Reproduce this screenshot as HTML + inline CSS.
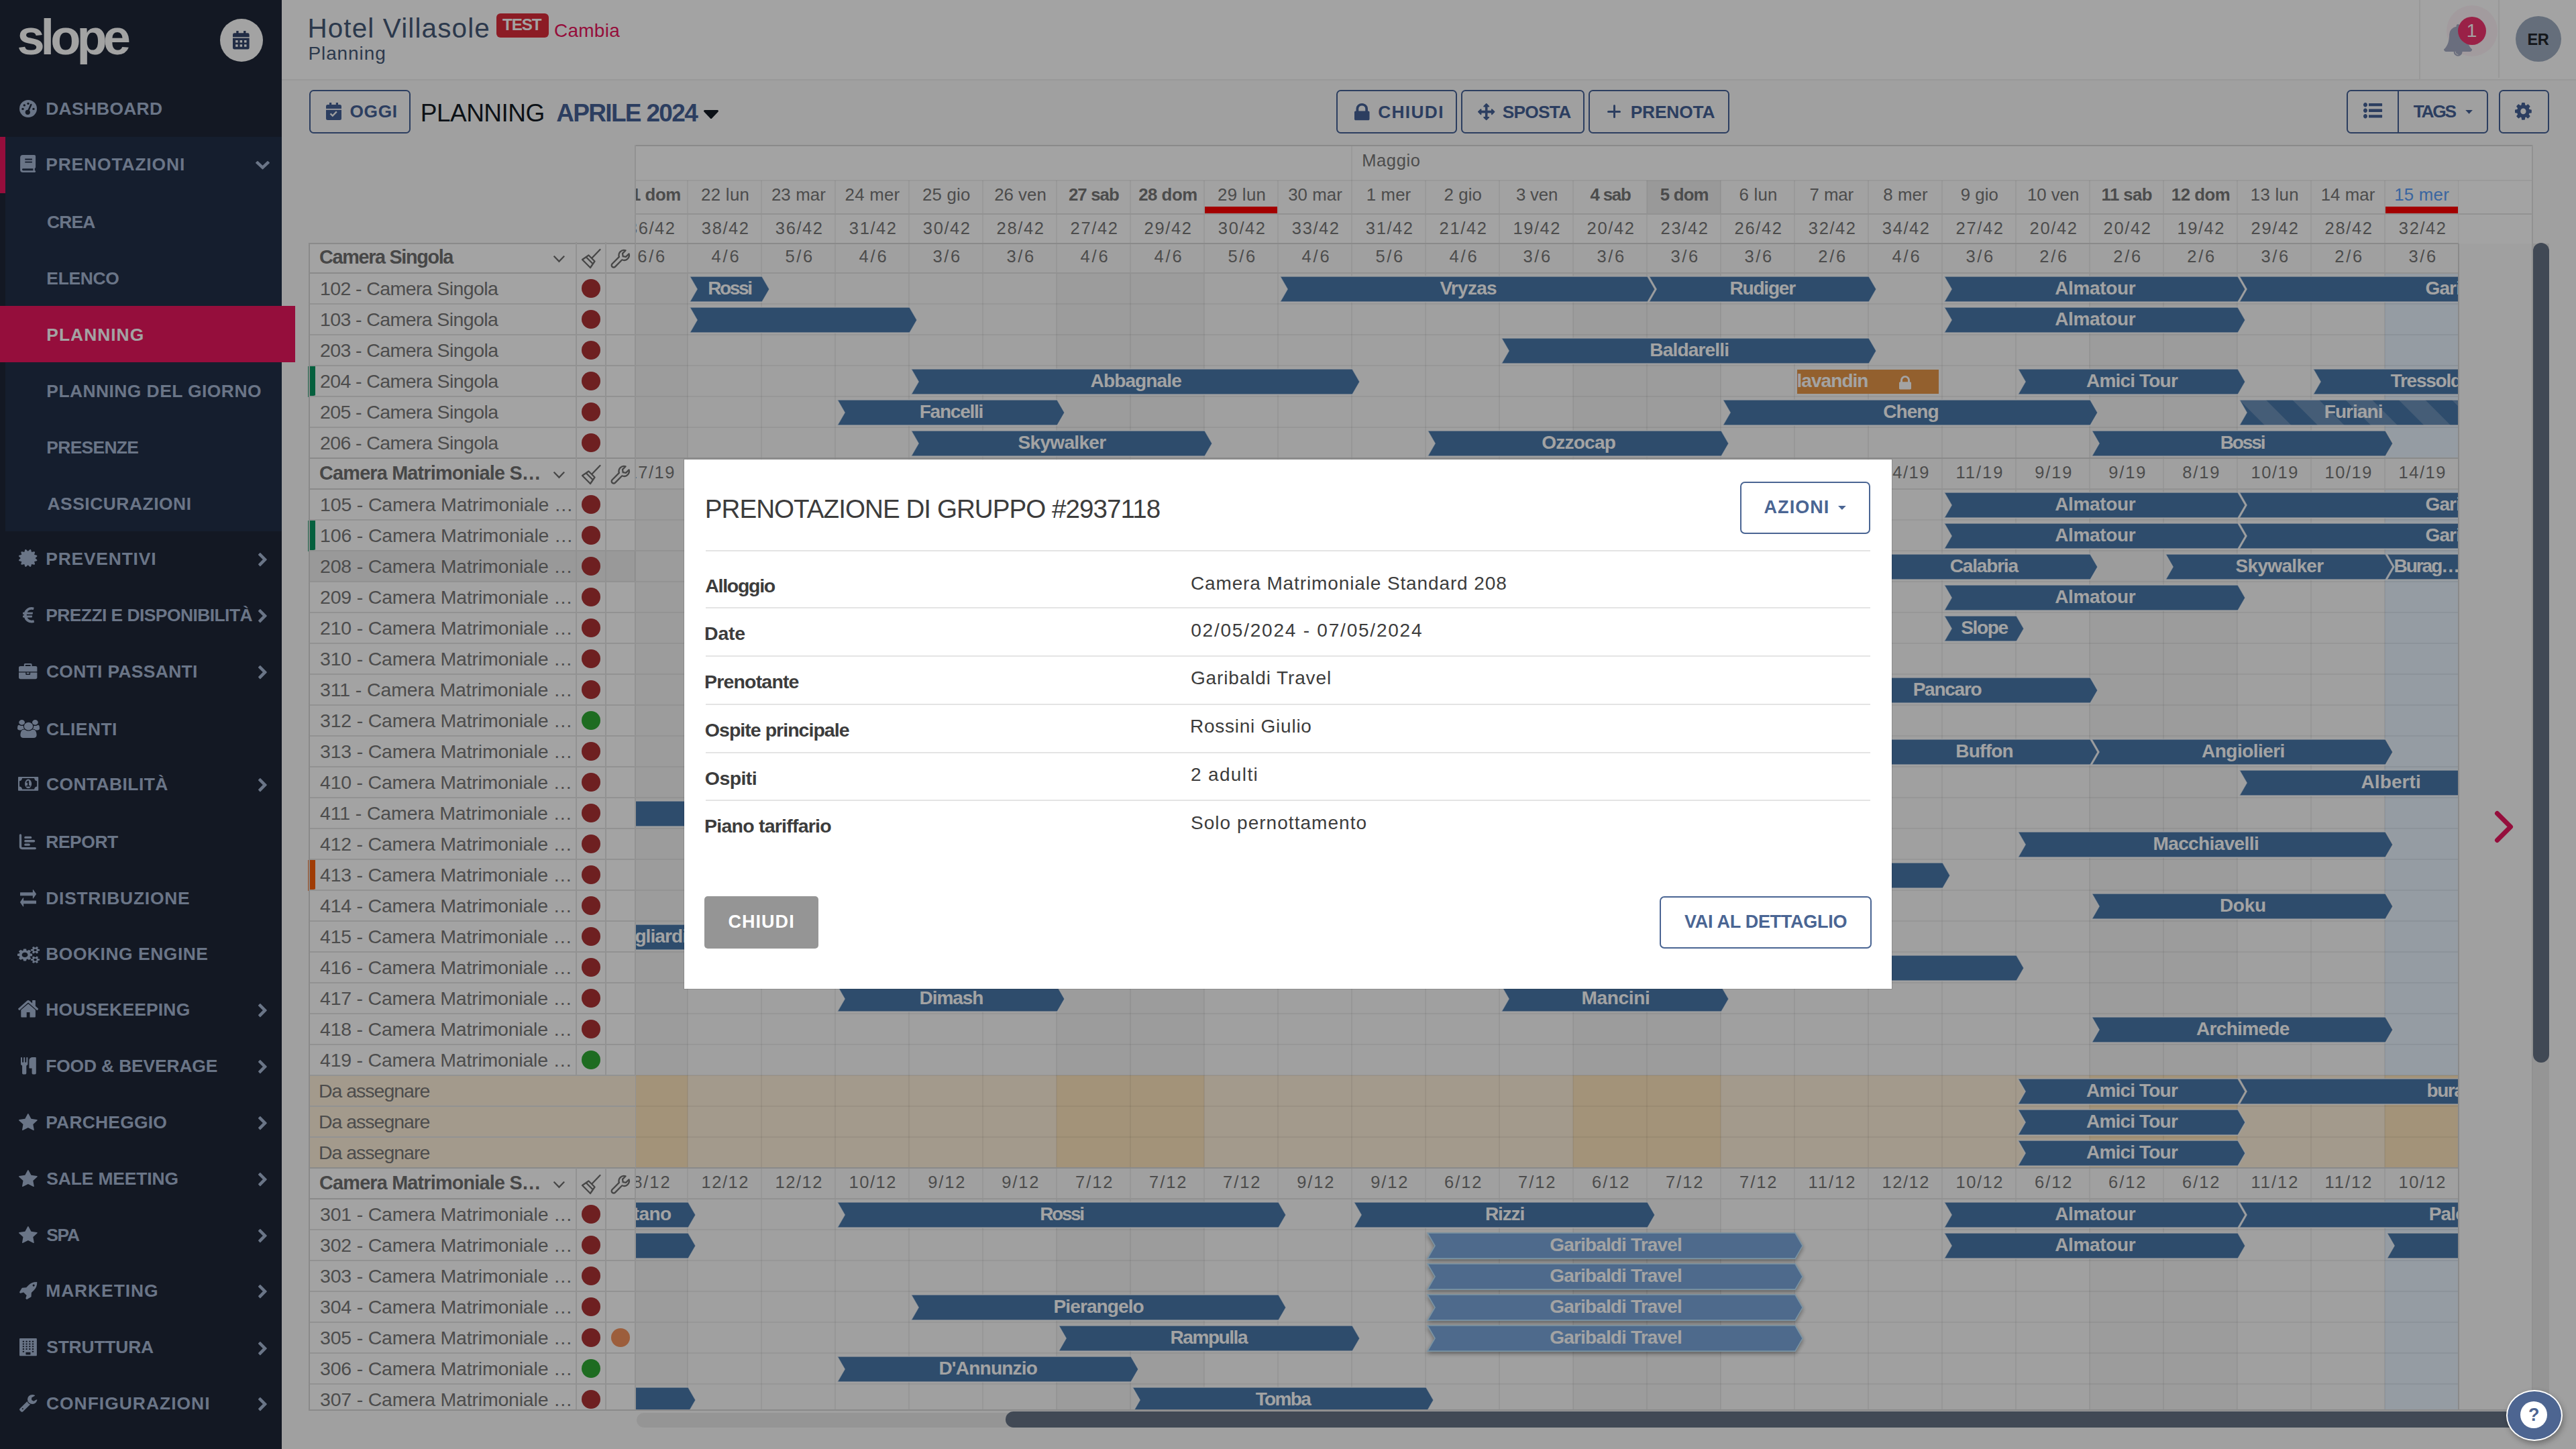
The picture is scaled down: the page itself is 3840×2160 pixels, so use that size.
<!DOCTYPE html>
<html lang="it"><head><meta charset="utf-8"><title>Slope - Planning</title>
<style>
html,body{margin:0;padding:0}html{overflow:hidden;background:#fbfbfb}body{width:3840px;height:2160px;overflow:hidden;position:relative;transform-origin:0 0;background:#fbfbfb;font-family:"Liberation Sans",sans-serif}
.t{position:absolute;white-space:nowrap;line-height:1}.b{position:absolute}.i{position:absolute;overflow:visible}
@media (max-width:1920px){body{transform:scale(.5)}}
#pg,#ov{position:absolute;left:0;top:0;width:3840px;height:2160px;overflow:hidden}#ov{background:rgba(0,0,0,0.36)}
.tl{position:absolute;overflow:hidden}.bar{position:absolute;height:36.5px}.bar span{position:absolute;left:0;right:0;top:0;text-align:center;font-weight:700;font-size:28px;line-height:36.5px;color:#fff;white-space:nowrap}
.cl{position:absolute;left:0;top:0;width:3840px;height:2160px;clip-path:inset(216px 174.7px 57.6px 946.6px)}
.lp{position:absolute;left:0;top:0;width:3840px;height:2160px;clip-path:inset(361px 2893px 57.6px 457px)}
</style></head>
<body>
<div id="pg">
<div class="b" style="left:0px;top:0px;width:420px;height:2160px;background:#1e2738"></div>
<div class="b" style="left:8px;top:204px;width:412px;height:587.5px;background:#223048"></div>
<div class="b" style="left:0px;top:204px;width:8px;height:83.7px;background:#ea175e"></div>
<div class="b" style="left:0px;top:456px;width:440px;height:84px;background:#ea175e"></div>
<span class="t" style="left:25.4px;top:18.54px;font-size:74px;color:#fff;font-weight:700;letter-spacing:-5.96px;">slope</span>
<div class="b" style="left:328px;top:28px;width:64px;height:64px;background:#fff;border-radius:50%"></div>
<svg class="i" style="left:347.3px;top:45.8px;width:24.7px;height:27.6px" viewBox="0 0 25 28"><path fill="#34456c" fill-rule="evenodd" d="M5.300 0h3.400v3.300H16.300V0h3.400v3.300H22.500A2.500 2.500 0 0 1 25 5.800V9.300H0V5.800A2.500 2.500 0 0 1 2.500 3.300H5.300zM0 11h25v14.500A2.500 2.500 0 0 1 22.500 28h-20A2.500 2.500 0 0 1 0 25.500zM4.200 14.300v3.500h3.500v-3.500zM10.750 14.300v3.500h3.500v-3.500zM17.300 14.300v3.500h3.500v-3.500zM4.200 20.500v3.500h3.500v-3.500zM10.750 20.500v3.500h3.500v-3.500zM17.300 20.500v3.500h3.500v-3.500z"/></svg>
<span class="t" style="left:68.23px;top:149.25px;font-size:26.4px;color:#a7b7d4;font-weight:700;letter-spacing:0.28px;">DASHBOARD</span>
<svg class="i" style="left:28.7px;top:149px;width:26px;height:26px" viewBox="0 0 26 26"><circle cx="13" cy="13" r="13" fill="#a7b7d4"/><g fill="#1e2738"><circle cx="13" cy="5.400" r="1.700"/><circle cx="7.300" cy="7.900" r="1.700"/><circle cx="5" cy="13.400" r="1.700"/><circle cx="21" cy="13.400" r="1.700"/><circle cx="12.300" cy="18.300" r="3.600"/></g><path d="M12.600 17.500L17.300 7" stroke="#1e2738" stroke-width="2.500" stroke-linecap="round"/></svg>
<span class="t" style="left:68.23px;top:231.85px;font-size:26.4px;color:#a7b7d4;font-weight:700;letter-spacing:0.87px;">PRENOTAZIONI</span>
<svg class="i" style="left:30.3px;top:231px;width:23.2px;height:26px" viewBox="0 0 23 26"><path fill="#a7b7d4" fill-rule="evenodd" d="M4 0H21a2 2 0 0 1 2 2V18a2 2 0 0 1-1.300 1.900V23.200a1.400 1.400 0 0 1 0 2.800H4a4 4 0 0 1-4-4V4a4 4 0 0 1 4-4zM4.300 20.300a1.450 1.450 0 0 0 0 2.900H19.300V20.300zM7.200 5.600v1.900H17.800V5.600zM7.200 9.700v1.900H17.800V9.700z"/></svg>
<svg class="i" style="left:381px;top:240.2px;width:21px;height:12.6px;" viewBox="90 -1003 1612 1035" preserveAspectRatio="none"><path fill="#a7b7d4" transform="scale(1,-1)" d="M1683 728l-742 -741q-19 -19 -45 -19t-45 19l-742 741q-19 19 -19 45.5t19 45.5l166 165q19 19 45 19t45 -19l531 -531l531 531q19 19 45 19t45 -19l166 -165q19 -19 19 -45.5t-19 -45.5z"/></svg>
<span class="t" style="left:68.23px;top:819.65px;font-size:26.4px;color:#a7b7d4;font-weight:700;letter-spacing:0.82px;">PREVENTIVI</span>
<svg class="i" style="left:28.2px;top:819.3px;width:27.4px;height:26px;" viewBox="-0.5 -1408.35 1537 1536.85" preserveAspectRatio="none"><path fill="#a7b7d4" transform="scale(1,-1)" d="M1376 640l138 -135q30 -28 20 -70q-12 -41 -52 -51l-188 -48l53 -186q12 -41 -19 -70q-29 -31 -70 -19l-186 53l-48 -188q-10 -40 -51 -52q-12 -2 -19 -2q-31 0 -51 22l-135 138l-135 -138q-28 -30 -70 -20q-41 11 -51 52l-48 188l-186 -53q-41 -12 -70 19q-31 29 -19 70
l53 186l-188 48q-40 10 -52 51q-10 42 20 70l138 135l-138 135q-30 28 -20 70q12 41 52 51l188 48l-53 186q-12 41 19 70q29 31 70 19l186 -53l48 188q10 41 51 51q41 12 70 -19l135 -139l135 139q29 30 70 19q41 -10 51 -51l48 -188l186 53q41 12 70 -19q31 -29 19 -70
l-53 -186l188 -48q40 -10 52 -51q10 -42 -20 -70z"/></svg>
<svg class="i" style="left:384.8px;top:823.8px;width:12.8px;height:20.2px;" viewBox="90 -1510 1036 1612" preserveAspectRatio="none"><path fill="#a7b7d4" transform="scale(1,-1)" d="M1107 659l-742 -742q-19 -19 -45 -19t-45 19l-166 166q-19 19 -19 45t19 45l531 531l-531 531q-19 19 -19 45t19 45l166 166q19 19 45 19t45 -19l742 -742q19 -19 19 -45t-19 -45z"/></svg>
<span class="t" style="left:68.23px;top:903.65px;font-size:26.4px;color:#a7b7d4;font-weight:700;letter-spacing:-0.54px;">PREZZI E DISPONIBILITÀ</span>
<svg class="i" style="left:34px;top:904.5px;width:17px;height:23.5px;" viewBox="0 -1408 1012 1408" preserveAspectRatio="none"><path fill="#a7b7d4" transform="scale(1,-1)" d="M976 229l35 -159q3 -12 -3 -22.5t-17 -14.5l-5 -1q-4 -2 -10.5 -3.5t-16 -4.5t-21.5 -5.5t-25.5 -5t-30 -5t-33.5 -4.5t-36.5 -3t-38.5 -1q-234 0 -409 130.5t-238 351.5h-95q-13 0 -22.5 9.5t-9.5 22.5v113q0 13 9.5 22.5t22.5 9.5h66q-2 57 1 105h-67q-14 0 -23 9
t-9 23v114q0 14 9 23t23 9h98q67 210 243.5 338t400.5 128q102 0 194 -23q11 -3 20 -15q6 -11 3 -24l-43 -159q-3 -13 -14 -19.5t-24 -2.5l-4 1q-4 1 -11.5 2.5l-17.5 3.5t-22.5 3.5t-26 3t-29 2.5t-29.5 1q-126 0 -226 -64t-150 -176h468q16 0 25 -12q10 -12 7 -26
l-24 -114q-5 -26 -32 -26h-488q-3 -37 0 -105h459q15 0 25 -12q9 -12 6 -27l-24 -112q-2 -11 -11 -18.5t-20 -7.5h-387q48 -117 149.5 -185.5t228.5 -68.5q18 0 36 1.5t33.5 3.5t29.5 4.5t24.5 5t18.5 4.5l12 3l5 2q13 5 26 -2q12 -7 15 -21z"/></svg>
<svg class="i" style="left:384.8px;top:907.8px;width:12.8px;height:20.2px;" viewBox="90 -1510 1036 1612" preserveAspectRatio="none"><path fill="#a7b7d4" transform="scale(1,-1)" d="M1107 659l-742 -742q-19 -19 -45 -19t-45 19l-166 166q-19 19 -19 45t19 45l531 531l-531 531q-19 19 -19 45t19 45l166 166q19 19 45 19t45 -19l742 -742q19 -19 19 -45t-19 -45z"/></svg>
<span class="t" style="left:68.92px;top:987.65px;font-size:26.4px;color:#a7b7d4;font-weight:700;letter-spacing:0.35px;">CONTI PASSANTI</span>
<svg class="i" style="left:28.2px;top:988.7px;width:27.4px;height:23.3px;" viewBox="0 -1536 1792 1536" preserveAspectRatio="none"><path fill="#a7b7d4" transform="scale(1,-1)" d="M640 1280h512v128h-512v-128zM1792 640v-480q0 -66 -47 -113t-113 -47h-1472q-66 0 -113 47t-47 113v480h672v-160q0 -26 19 -45t45 -19h320q26 0 45 19t19 45v160h672zM1024 640v-128h-256v128h256zM1792 1120v-384h-1792v384q0 66 47 113t113 47h352v160q0 40 28 68
t68 28h576q40 0 68 -28t28 -68v-160h352q66 0 113 -47t47 -113z"/></svg>
<svg class="i" style="left:384.8px;top:991.8px;width:12.8px;height:20.2px;" viewBox="90 -1510 1036 1612" preserveAspectRatio="none"><path fill="#a7b7d4" transform="scale(1,-1)" d="M1107 659l-742 -742q-19 -19 -45 -19t-45 19l-166 166q-19 19 -19 45t19 45l531 531l-531 531q-19 19 -19 45t19 45l166 166q19 19 45 19t45 -19l742 -742q19 -19 19 -45t-19 -45z"/></svg>
<span class="t" style="left:68.92px;top:1073.65px;font-size:26.4px;color:#a7b7d4;font-weight:700;letter-spacing:0.48px;">CLIENTI</span>
<svg class="i" style="left:25.7px;top:1073px;width:33px;height:27px;" viewBox="0 -1536 1920 1792" preserveAspectRatio="none"><path fill="#a7b7d4" transform="scale(1,-1)" d="M593 640q-162 -5 -265 -128h-134q-82 0 -138 40.5t-56 118.5q0 353 124 353q6 0 43.5 -21t97.5 -42.5t119 -21.5q67 0 133 23q-5 -37 -5 -66q0 -139 81 -256zM1664 3q0 -120 -73 -189.5t-194 -69.5h-874q-121 0 -194 69.5t-73 189.5q0 53 3.5 103.5t14 109t26.5 108.5
t43 97.5t62 81t85.5 53.5t111.5 20q10 0 43 -21.5t73 -48t107 -48t135 -21.5t135 21.5t107 48t73 48t43 21.5q61 0 111.5 -20t85.5 -53.5t62 -81t43 -97.5t26.5 -108.5t14 -109t3.5 -103.5zM640 1280q0 -106 -75 -181t-181 -75t-181 75t-75 181t75 181t181 75t181 -75
t75 -181zM1344 896q0 -159 -112.5 -271.5t-271.5 -112.5t-271.5 112.5t-112.5 271.5t112.5 271.5t271.5 112.5t271.5 -112.5t112.5 -271.5zM1920 671q0 -78 -56 -118.5t-138 -40.5h-134q-103 123 -265 128q81 117 81 256q0 29 -5 66q66 -23 133 -23q59 0 119 21.5t97.5 42.5
t43.5 21q124 0 124 -353zM1792 1280q0 -106 -75 -181t-181 -75t-181 75t-75 181t75 181t181 75t181 -75t75 -181z"/></svg>
<span class="t" style="left:68.92px;top:1155.95px;font-size:26.4px;color:#a7b7d4;font-weight:700;letter-spacing:0.45px;">CONTABILITÀ</span>
<svg class="i" style="left:27px;top:1158px;width:30.2px;height:20.7px;" viewBox="0 -1280 1920 1280" preserveAspectRatio="none"><path fill="#a7b7d4" transform="scale(1,-1)" d="M768 384h384v96h-128v448h-114l-148 -137l77 -80q42 37 55 57h2v-288h-128v-96zM1280 640q0 -70 -21 -142t-59.5 -134t-101.5 -101t-138 -39t-138 39t-101.5 101t-59.5 134t-21 142t21 142t59.5 134t101.5 101t138 39t138 -39t101.5 -101t59.5 -134t21 -142zM1792 384
v512q-106 0 -181 75t-75 181h-1152q0 -106 -75 -181t-181 -75v-512q106 0 181 -75t75 -181h1152q0 106 75 181t181 75zM1920 1216v-1152q0 -26 -19 -45t-45 -19h-1792q-26 0 -45 19t-19 45v1152q0 26 19 45t45 19h1792q26 0 45 -19t19 -45z"/></svg>
<svg class="i" style="left:384.8px;top:1160.1px;width:12.8px;height:20.2px;" viewBox="90 -1510 1036 1612" preserveAspectRatio="none"><path fill="#a7b7d4" transform="scale(1,-1)" d="M1107 659l-742 -742q-19 -19 -45 -19t-45 19l-166 166q-19 19 -19 45t19 45l531 531l-531 531q-19 19 -19 45t19 45l166 166q19 19 45 19t45 -19l742 -742q19 -19 19 -45t-19 -45z"/></svg>
<span class="t" style="left:68.23px;top:1242.15px;font-size:26.4px;color:#a7b7d4;font-weight:700;letter-spacing:-0.39px;">REPORT</span>
<svg class="i" style="left:28.2px;top:1243px;width:26.5px;height:23.5px" viewBox="0 0 26 24"><path fill="none" stroke="#a7b7d4" stroke-width="3.4" stroke-linecap="round" stroke-linejoin="round" d="M2 2v17.5a2.5 2.5 0 0 0 2.500 2.500H24.3M9.5 5.5h8M9.5 11h13M9.5 16.500h5.5"/></svg>
<span class="t" style="left:68.23px;top:1326.15px;font-size:26.4px;color:#a7b7d4;font-weight:700;letter-spacing:0.76px;">DISTRIBUZIONE</span>
<svg class="i" style="left:29.8px;top:1325.8px;width:24px;height:25.6px;" viewBox="0 -1248 1792 1344" preserveAspectRatio="none"><path fill="#a7b7d4" transform="scale(1,-1)" d="M1792 352v-192q0 -13 -9.5 -22.5t-22.5 -9.5h-1376v-192q0 -13 -9.5 -22.5t-22.5 -9.5q-12 0 -24 10l-319 320q-9 9 -9 22q0 14 9 23l320 320q9 9 23 9q13 0 22.5 -9.5t9.5 -22.5v-192h1376q13 0 22.5 -9.5t9.5 -22.5zM1792 896q0 -14 -9 -23l-320 -320q-9 -9 -23 -9
q-13 0 -22.5 9.5t-9.5 22.5v192h-1376q-13 0 -22.5 9.5t-9.5 22.5v192q0 13 9.5 22.5t22.5 9.5h1376v192q0 14 9 23t23 9q12 0 24 -10l319 -319q9 -9 9 -23z"/></svg>
<span class="t" style="left:68.23px;top:1409.45px;font-size:26.4px;color:#a7b7d4;font-weight:700;letter-spacing:0.55px;">BOOKING ENGINE</span>
<svg class="i" style="left:25.7px;top:1410.7px;width:33.1px;height:24.8px;" viewBox="0 -1520 1920 1761" preserveAspectRatio="none"><path fill="#a7b7d4" transform="scale(1,-1)" d="M896 640q0 106 -75 181t-181 75t-181 -75t-75 -181t75 -181t181 -75t181 75t75 181zM1664 128q0 52 -38 90t-90 38t-90 -38t-38 -90q0 -53 37.5 -90.5t90.5 -37.5t90.5 37.5t37.5 90.5zM1664 1152q0 52 -38 90t-90 38t-90 -38t-38 -90q0 -53 37.5 -90.5t90.5 -37.5
t90.5 37.5t37.5 90.5zM1280 731v-185q0 -10 -7 -19.5t-16 -10.5l-155 -24q-11 -35 -32 -76q34 -48 90 -115q7 -11 7 -20q0 -12 -7 -19q-23 -30 -82.5 -89.5t-78.5 -59.5q-11 0 -21 7l-115 90q-37 -19 -77 -31q-11 -108 -23 -155q-7 -24 -30 -24h-186q-11 0 -20 7.5t-10 17.5
l-23 153q-34 10 -75 31l-118 -89q-7 -7 -20 -7q-11 0 -21 8q-144 133 -144 160q0 9 7 19q10 14 41 53t47 61q-23 44 -35 82l-152 24q-10 1 -17 9.5t-7 19.5v185q0 10 7 19.5t16 10.5l155 24q11 35 32 76q-34 48 -90 115q-7 11 -7 20q0 12 7 20q22 30 82 89t79 59q11 0 21 -7
l115 -90q34 18 77 32q11 108 23 154q7 24 30 24h186q11 0 20 -7.5t10 -17.5l23 -153q34 -10 75 -31l118 89q8 7 20 7q11 0 21 -8q144 -133 144 -160q0 -8 -7 -19q-12 -16 -42 -54t-45 -60q23 -48 34 -82l152 -23q10 -2 17 -10.5t7 -19.5zM1920 198v-140q0 -16 -149 -31
q-12 -27 -30 -52q51 -113 51 -138q0 -4 -4 -7q-122 -71 -124 -71q-8 0 -46 47t-52 68q-20 -2 -30 -2t-30 2q-14 -21 -52 -68t-46 -47q-2 0 -124 71q-4 3 -4 7q0 25 51 138q-18 25 -30 52q-149 15 -149 31v140q0 16 149 31q13 29 30 52q-51 113 -51 138q0 4 4 7q4 2 35 20
t59 34t30 16q8 0 46 -46.5t52 -67.5q20 2 30 2t30 -2q51 71 92 112l6 2q4 0 124 -70q4 -3 4 -7q0 -25 -51 -138q17 -23 30 -52q149 -15 149 -31zM1920 1222v-140q0 -16 -149 -31q-12 -27 -30 -52q51 -113 51 -138q0 -4 -4 -7q-122 -71 -124 -71q-8 0 -46 47t-52 68
q-20 -2 -30 -2t-30 2q-14 -21 -52 -68t-46 -47q-2 0 -124 71q-4 3 -4 7q0 25 51 138q-18 25 -30 52q-149 15 -149 31v140q0 16 149 31q13 29 30 52q-51 113 -51 138q0 4 4 7q4 2 35 20t59 34t30 16q8 0 46 -46.5t52 -67.5q20 2 30 2t30 -2q51 71 92 112l6 2q4 0 124 -70
q4 -3 4 -7q0 -25 -51 -138q17 -23 30 -52q149 -15 149 -31z"/></svg>
<span class="t" style="left:68.23px;top:1491.85px;font-size:26.4px;color:#a7b7d4;font-weight:700;letter-spacing:0.21px;">HOUSEKEEPING</span>
<svg class="i" style="left:27px;top:1491.4px;width:30.2px;height:25.6px;" viewBox="25.89 -1283 1612.22 1283" preserveAspectRatio="none"><path fill="#a7b7d4" transform="scale(1,-1)" d="M1408 544v-480q0 -26 -19 -45t-45 -19h-384v384h-256v-384h-384q-26 0 -45 19t-19 45v480q0 1 0.5 3t0.5 3l575 474l575 -474q1 -2 1 -6zM1631 613l-62 -74q-8 -9 -21 -11h-3q-13 0 -21 7l-692 577l-692 -577q-12 -8 -24 -7q-13 2 -21 11l-62 74q-8 10 -7 23.5t11 21.5
l719 599q32 26 76 26t76 -26l244 -204v195q0 14 9 23t23 9h192q14 0 23 -9t9 -23v-408l219 -182q10 -8 11 -21.5t-7 -23.5z"/></svg>
<svg class="i" style="left:384.8px;top:1496px;width:12.8px;height:20.2px;" viewBox="90 -1510 1036 1612" preserveAspectRatio="none"><path fill="#a7b7d4" transform="scale(1,-1)" d="M1107 659l-742 -742q-19 -19 -45 -19t-45 19l-166 166q-19 19 -19 45t19 45l531 531l-531 531q-19 19 -19 45t19 45l166 166q19 19 45 19t45 -19l742 -742q19 -19 19 -45t-19 -45z"/></svg>
<span class="t" style="left:68.23px;top:1575.95px;font-size:26.4px;color:#a7b7d4;font-weight:700;letter-spacing:-0.14px;">FOOD &amp; BEVERAGE</span>
<svg class="i" style="left:31px;top:1575.5px;width:22.8px;height:25.5px;" viewBox="0 -1536 1408 1792" preserveAspectRatio="none"><path fill="#a7b7d4" transform="scale(1,-1)" d="M640 1472v-640q0 -61 -35.5 -111t-92.5 -70v-779q0 -52 -38 -90t-90 -38h-128q-52 0 -90 38t-38 90v779q-57 20 -92.5 70t-35.5 111v640q0 26 19 45t45 19t45 -19t19 -45v-416q0 -26 19 -45t45 -19t45 19t19 45v416q0 26 19 45t45 19t45 -19t19 -45v-416q0 -26 19 -45
t45 -19t45 19t19 45v416q0 26 19 45t45 19t45 -19t19 -45zM1408 1472v-1600q0 -52 -38 -90t-90 -38h-128q-52 0 -90 38t-38 90v512h-224q-13 0 -22.5 9.5t-9.5 22.5v800q0 132 94 226t226 94h256q26 0 45 -19t19 -45z"/></svg>
<svg class="i" style="left:384.8px;top:1580.1px;width:12.8px;height:20.2px;" viewBox="90 -1510 1036 1612" preserveAspectRatio="none"><path fill="#a7b7d4" transform="scale(1,-1)" d="M1107 659l-742 -742q-19 -19 -45 -19t-45 19l-166 166q-19 19 -19 45t19 45l531 531l-531 531q-19 19 -19 45t19 45l166 166q19 19 45 19t45 -19l742 -742q19 -19 19 -45t-19 -45z"/></svg>
<span class="t" style="left:68.23px;top:1659.65px;font-size:26.4px;color:#a7b7d4;font-weight:700;letter-spacing:0.25px;">PARCHEGGIO</span>
<svg class="i" style="left:28.2px;top:1660px;width:27.8px;height:25px;" viewBox="0 -1504 1664 1587" preserveAspectRatio="none"><path fill="#a7b7d4" transform="scale(1,-1)" d="M1664 889q0 -22 -26 -48l-363 -354l86 -500q1 -7 1 -20q0 -21 -10.5 -35.5t-30.5 -14.5q-19 0 -40 12l-449 236l-449 -236q-22 -12 -40 -12q-21 0 -31.5 14.5t-10.5 35.5q0 6 2 20l86 500l-364 354q-25 27 -25 48q0 37 56 46l502 73l225 455q19 41 49 41t49 -41l225 -455
l502 -73q56 -9 56 -46z"/></svg>
<svg class="i" style="left:384.8px;top:1663.8px;width:12.8px;height:20.2px;" viewBox="90 -1510 1036 1612" preserveAspectRatio="none"><path fill="#a7b7d4" transform="scale(1,-1)" d="M1107 659l-742 -742q-19 -19 -45 -19t-45 19l-166 166q-19 19 -19 45t19 45l531 531l-531 531q-19 19 -19 45t19 45l166 166q19 19 45 19t45 -19l742 -742q19 -19 19 -45t-19 -45z"/></svg>
<span class="t" style="left:69.24px;top:1743.85px;font-size:26.4px;color:#a7b7d4;font-weight:700;letter-spacing:-0.11px;">SALE MEETING</span>
<svg class="i" style="left:28.2px;top:1744.2px;width:27.8px;height:25px;" viewBox="0 -1504 1664 1587" preserveAspectRatio="none"><path fill="#a7b7d4" transform="scale(1,-1)" d="M1664 889q0 -22 -26 -48l-363 -354l86 -500q1 -7 1 -20q0 -21 -10.5 -35.5t-30.5 -14.5q-19 0 -40 12l-449 236l-449 -236q-22 -12 -40 -12q-21 0 -31.5 14.5t-10.5 35.5q0 6 2 20l86 500l-364 354q-25 27 -25 48q0 37 56 46l502 73l225 455q19 41 49 41t49 -41l225 -455
l502 -73q56 -9 56 -46z"/></svg>
<svg class="i" style="left:384.8px;top:1748px;width:12.8px;height:20.2px;" viewBox="90 -1510 1036 1612" preserveAspectRatio="none"><path fill="#a7b7d4" transform="scale(1,-1)" d="M1107 659l-742 -742q-19 -19 -45 -19t-45 19l-166 166q-19 19 -19 45t19 45l531 531l-531 531q-19 19 -19 45t19 45l166 166q19 19 45 19t45 -19l742 -742q19 -19 19 -45t-19 -45z"/></svg>
<span class="t" style="left:69.24px;top:1827.65px;font-size:26.4px;color:#a7b7d4;font-weight:700;letter-spacing:-1.28px;">SPA</span>
<svg class="i" style="left:28.2px;top:1828px;width:27.8px;height:25px;" viewBox="0 -1504 1664 1587" preserveAspectRatio="none"><path fill="#a7b7d4" transform="scale(1,-1)" d="M1664 889q0 -22 -26 -48l-363 -354l86 -500q1 -7 1 -20q0 -21 -10.5 -35.5t-30.5 -14.5q-19 0 -40 12l-449 236l-449 -236q-22 -12 -40 -12q-21 0 -31.5 14.5t-10.5 35.5q0 6 2 20l86 500l-364 354q-25 27 -25 48q0 37 56 46l502 73l225 455q19 41 49 41t49 -41l225 -455
l502 -73q56 -9 56 -46z"/></svg>
<svg class="i" style="left:384.8px;top:1831.8px;width:12.8px;height:20.2px;" viewBox="90 -1510 1036 1612" preserveAspectRatio="none"><path fill="#a7b7d4" transform="scale(1,-1)" d="M1107 659l-742 -742q-19 -19 -45 -19t-45 19l-166 166q-19 19 -19 45t19 45l531 531l-531 531q-19 19 -19 45t19 45l166 166q19 19 45 19t45 -19l742 -742q19 -19 19 -45t-19 -45z"/></svg>
<span class="t" style="left:68.23px;top:1911.15px;font-size:26.4px;color:#a7b7d4;font-weight:700;letter-spacing:0.93px;">MARKETING</span>
<svg class="i" style="left:29px;top:1911px;width:26.3px;height:26px;" viewBox="31.03 -1408 1632.97 1632" preserveAspectRatio="none"><path fill="#a7b7d4" transform="scale(1,-1)" d="M1440 1088q0 40 -28 68t-68 28t-68 -28t-28 -68t28 -68t68 -28t68 28t28 68zM1664 1376q0 -249 -75.5 -430.5t-253.5 -360.5q-81 -80 -195 -176l-20 -379q-2 -16 -16 -26l-384 -224q-7 -4 -16 -4q-12 0 -23 9l-64 64q-13 14 -8 32l85 276l-281 281l-276 -85q-3 -1 -9 -1
q-14 0 -23 9l-64 64q-17 19 -5 39l224 384q10 14 26 16l379 20q96 114 176 195q188 187 358 258t431 71q14 0 24 -9.5t10 -22.5z"/></svg>
<svg class="i" style="left:384.8px;top:1915.3px;width:12.8px;height:20.2px;" viewBox="90 -1510 1036 1612" preserveAspectRatio="none"><path fill="#a7b7d4" transform="scale(1,-1)" d="M1107 659l-742 -742q-19 -19 -45 -19t-45 19l-166 166q-19 19 -19 45t19 45l531 531l-531 531q-19 19 -19 45t19 45l166 166q19 19 45 19t45 -19l742 -742q19 -19 19 -45t-19 -45z"/></svg>
<span class="t" style="left:69.24px;top:1995.45px;font-size:26.4px;color:#a7b7d4;font-weight:700;letter-spacing:-0.17px;">STRUTTURA</span>
<svg class="i" style="left:29px;top:1995px;width:25.9px;height:26.3px;" viewBox="0 -1536 1408 1792" preserveAspectRatio="none"><path fill="#a7b7d4" transform="scale(1,-1)" d="M1344 1536q26 0 45 -19t19 -45v-1664q0 -26 -19 -45t-45 -19h-1280q-26 0 -45 19t-19 45v1664q0 26 19 45t45 19h1280zM512 1248v-64q0 -14 9 -23t23 -9h64q14 0 23 9t9 23v64q0 14 -9 23t-23 9h-64q-14 0 -23 -9t-9 -23zM512 992v-64q0 -14 9 -23t23 -9h64q14 0 23 9
t9 23v64q0 14 -9 23t-23 9h-64q-14 0 -23 -9t-9 -23zM512 736v-64q0 -14 9 -23t23 -9h64q14 0 23 9t9 23v64q0 14 -9 23t-23 9h-64q-14 0 -23 -9t-9 -23zM512 480v-64q0 -14 9 -23t23 -9h64q14 0 23 9t9 23v64q0 14 -9 23t-23 9h-64q-14 0 -23 -9t-9 -23zM384 160v64
q0 14 -9 23t-23 9h-64q-14 0 -23 -9t-9 -23v-64q0 -14 9 -23t23 -9h64q14 0 23 9t9 23zM384 416v64q0 14 -9 23t-23 9h-64q-14 0 -23 -9t-9 -23v-64q0 -14 9 -23t23 -9h64q14 0 23 9t9 23zM384 672v64q0 14 -9 23t-23 9h-64q-14 0 -23 -9t-9 -23v-64q0 -14 9 -23t23 -9h64
q14 0 23 9t9 23zM384 928v64q0 14 -9 23t-23 9h-64q-14 0 -23 -9t-9 -23v-64q0 -14 9 -23t23 -9h64q14 0 23 9t9 23zM384 1184v64q0 14 -9 23t-23 9h-64q-14 0 -23 -9t-9 -23v-64q0 -14 9 -23t23 -9h64q14 0 23 9t9 23zM896 -96v192q0 14 -9 23t-23 9h-320q-14 0 -23 -9
t-9 -23v-192q0 -14 9 -23t23 -9h320q14 0 23 9t9 23zM896 416v64q0 14 -9 23t-23 9h-64q-14 0 -23 -9t-9 -23v-64q0 -14 9 -23t23 -9h64q14 0 23 9t9 23zM896 672v64q0 14 -9 23t-23 9h-64q-14 0 -23 -9t-9 -23v-64q0 -14 9 -23t23 -9h64q14 0 23 9t9 23zM896 928v64
q0 14 -9 23t-23 9h-64q-14 0 -23 -9t-9 -23v-64q0 -14 9 -23t23 -9h64q14 0 23 9t9 23zM896 1184v64q0 14 -9 23t-23 9h-64q-14 0 -23 -9t-9 -23v-64q0 -14 9 -23t23 -9h64q14 0 23 9t9 23zM1152 160v64q0 14 -9 23t-23 9h-64q-14 0 -23 -9t-9 -23v-64q0 -14 9 -23t23 -9h64
q14 0 23 9t9 23zM1152 416v64q0 14 -9 23t-23 9h-64q-14 0 -23 -9t-9 -23v-64q0 -14 9 -23t23 -9h64q14 0 23 9t9 23zM1152 672v64q0 14 -9 23t-23 9h-64q-14 0 -23 -9t-9 -23v-64q0 -14 9 -23t23 -9h64q14 0 23 9t9 23zM1152 928v64q0 14 -9 23t-23 9h-64q-14 0 -23 -9
t-9 -23v-64q0 -14 9 -23t23 -9h64q14 0 23 9t9 23zM1152 1184v64q0 14 -9 23t-23 9h-64q-14 0 -23 -9t-9 -23v-64q0 -14 9 -23t23 -9h64q14 0 23 9t9 23z"/></svg>
<svg class="i" style="left:384.8px;top:1999.6px;width:12.8px;height:20.2px;" viewBox="90 -1510 1036 1612" preserveAspectRatio="none"><path fill="#a7b7d4" transform="scale(1,-1)" d="M1107 659l-742 -742q-19 -19 -45 -19t-45 19l-166 166q-19 19 -19 45t19 45l531 531l-531 531q-19 19 -19 45t19 45l166 166q19 19 45 19t45 -19l742 -742q19 -19 19 -45t-19 -45z"/></svg>
<span class="t" style="left:68.92px;top:2079.25px;font-size:26.4px;color:#a7b7d4;font-weight:700;letter-spacing:1.03px;">CONFIGURAZIONI</span>
<svg class="i" style="left:29px;top:2079.2px;width:26.3px;height:25.8px;" viewBox="21 -1408 1641 1643" preserveAspectRatio="none"><path fill="#a7b7d4" transform="scale(1,-1)" d="M384 64q0 26 -19 45t-45 19t-45 -19t-19 -45t19 -45t45 -19t45 19t19 45zM1028 484l-682 -682q-37 -37 -90 -37q-52 0 -91 37l-106 108q-38 36 -38 90q0 53 38 91l681 681q39 -98 114.5 -173.5t173.5 -114.5zM1662 919q0 -39 -23 -106q-47 -134 -164.5 -217.5
t-258.5 -83.5q-185 0 -316.5 131.5t-131.5 316.5t131.5 316.5t316.5 131.5q58 0 121.5 -16.5t107.5 -46.5q16 -11 16 -28t-16 -28l-293 -169v-224l193 -107q5 3 79 48.5t135.5 81t70.5 35.5q15 0 23.5 -10t8.5 -25z"/></svg>
<svg class="i" style="left:384.8px;top:2083.4px;width:12.8px;height:20.2px;" viewBox="90 -1510 1036 1612" preserveAspectRatio="none"><path fill="#a7b7d4" transform="scale(1,-1)" d="M1107 659l-742 -742q-19 -19 -45 -19t-45 19l-166 166q-19 19 -19 45t19 45l531 531l-531 531q-19 19 -19 45t19 45l166 166q19 19 45 19t45 -19l742 -742q19 -19 19 -45t-19 -45z"/></svg>
<span class="t" style="left:70.02px;top:317.65px;font-size:26.4px;color:#a7b7d4;font-weight:700;letter-spacing:-0.81px;">CREA</span>
<span class="t" style="left:69.33px;top:401.65px;font-size:26.4px;color:#a7b7d4;font-weight:700;letter-spacing:-0.29px;">ELENCO</span>
<span class="t" style="left:69.33px;top:485.65px;font-size:26.4px;color:#fff;font-weight:700;letter-spacing:1.01px;">PLANNING</span>
<span class="t" style="left:69.33px;top:569.65px;font-size:26.4px;color:#a7b7d4;font-weight:700;letter-spacing:0.46px;">PLANNING DEL GIORNO</span>
<span class="t" style="left:69.33px;top:653.65px;font-size:26.4px;color:#a7b7d4;font-weight:700;letter-spacing:-0.67px;">PRESENZE</span>
<span class="t" style="left:70.44px;top:737.65px;font-size:26.4px;color:#a7b7d4;font-weight:700;letter-spacing:0.53px;">ASSICURAZIONI</span>
<div class="b" style="left:420px;top:0px;width:3420px;height:118px;background:#fff"></div>
<div class="b" style="left:420px;top:117.6px;width:3420px;height:2px;background:#efefef"></div>
<span class="t" style="left:458.38px;top:21.81px;font-size:40.5px;color:#465978;letter-spacing:1.11px;">Hotel Villasole</span>
<div class="b" style="left:740px;top:20px;width:77.8px;height:35.9px;background:#db2c3b;border-radius:6px"></div>
<span class="t" style="left:749.03px;top:25.21px;font-size:24.2px;color:#fff;font-weight:700;letter-spacing:-1.07px;">TEST</span>
<span class="t" style="left:825.98px;top:32.39px;font-size:28px;color:#ea175e;letter-spacing:0.25px;">Cambia</span>
<span class="t" style="left:459.4px;top:66.09px;font-size:28px;color:#465978;letter-spacing:0.92px;">Planning</span>
<div class="b" style="left:3606px;top:0px;width:1.6px;height:118px;background:#efefef"></div>
<div class="b" style="left:3724px;top:0px;width:1.6px;height:116px;background:#efefef"></div>
<div class="b" style="left:3647px;top:8px;width:76px;height:76px;background:rgba(231,23,92,.05);border-radius:50%"></div>
<svg class="i" style="left:3642.8px;top:36px;width:42.2px;height:47.8px;" viewBox="64 -1536 1664 1792" preserveAspectRatio="none"><path fill="#a7adc5" transform="scale(1,-1)" d="M912 -160q0 16 -16 16q-59 0 -101.5 42.5t-42.5 101.5q0 16 -16 16t-16 -16q0 -73 51.5 -124.5t124.5 -51.5q16 0 16 16zM1728 128q0 -52 -38 -90t-90 -38h-448q0 -106 -75 -181t-181 -75t-181 75t-75 181h-448q-52 0 -90 38t-38 90q50 42 91 88t85 119.5t74.5 158.5
t50 206t19.5 260q0 152 117 282.5t307 158.5q-8 19 -8 39q0 40 28 68t68 28t68 -28t28 -68q0 -20 -8 -39q190 -28 307 -158.5t117 -282.5q0 -139 19.5 -260t50 -206t74.5 -158.5t85 -119.5t91 -88z"/></svg>
<div class="b" style="left:3663.7px;top:24.7px;width:42.6px;height:42.6px;background:#f1346f;border-radius:50%"></div>
<span class="t" style="left:3676.83px;top:32.29px;font-size:28px;color:#fff;">1</span>
<div class="b" style="left:3750.1px;top:23.7px;width:68px;height:68px;background:#9eacc0;border-radius:50%"></div>
<span class="t" style="left:3767.62px;top:47.62px;font-size:23.6px;color:#22262c;font-weight:700;letter-spacing:-0.72px;">ER</span>
<div class="b" style="left:460.7px;top:134.4px;width:151px;height:65px;box-sizing:border-box;border:2.4px solid #456196;border-radius:6.5px;"></div>
<svg class="i" style="left:486px;top:153.3px;width:23px;height:26px" viewBox="0 0 23 26"><path fill="#456196" d="M5 0h3.200v3H14.800V0H18v3h2.500A2.500 2.500 0 0 1 23 5.500V9H0V5.500A2.500 2.500 0 0 1 2.500 3H5zM0 10.800h23v12.700A2.500 2.500 0 0 1 20.500 26h-18A2.500 2.500 0 0 1 0 23.500zM16.700 14.300l-1.700-1.700-5.200 5.300-2.400-2.400-1.700 1.700 4.100 4.100z" fill-rule="evenodd"/></svg>
<span class="t" style="left:521.52px;top:152.73px;font-size:26.3px;color:#456196;font-weight:700;letter-spacing:0.65px;">OGGI</span>
<span class="t" style="left:626.76px;top:150.17px;font-size:37px;color:#141b24;letter-spacing:-0.51px;">PLANNING</span>
<span class="t" style="left:829.28px;top:150.17px;font-size:37px;color:#456196;font-weight:700;letter-spacing:-1.68px;">APRILE 2024</span>
<svg class="i" style="left:1049px;top:164px;width:22px;height:13px" viewBox="0 0 22 13"><path fill="#141b24" d="M1.500 0h19a1.500 1.500 0 0 1 1.100 2.500l-9.500 10a1.500 1.500 0 0 1-2.200 0L.4 2.500A1.500 1.500 0 0 1 1.500 0z"/></svg>
<div class="b" style="left:1992px;top:134.4px;width:179.8px;height:65px;box-sizing:border-box;border:2.4px solid #456196;border-radius:6.5px;"></div>
<svg class="i" style="left:2018.5px;top:153.7px;width:22.5px;height:25.3px;" viewBox="0 -1408 1152 1408" preserveAspectRatio="none"><path fill="#456196" transform="scale(1,-1)" d="M320 768h512v192q0 106 -75 181t-181 75t-181 -75t-75 -181v-192zM1152 672v-576q0 -40 -28 -68t-68 -28h-960q-40 0 -68 28t-28 68v576q0 40 28 68t68 28h32v192q0 184 132 316t316 132t316 -132t132 -316v-192h32q40 0 68 -28t28 -68z"/></svg>
<span class="t" style="left:2054.22px;top:153.53px;font-size:26.3px;color:#456196;font-weight:700;letter-spacing:1.33px;">CHIUDI</span>
<div class="b" style="left:2178px;top:134.4px;width:183.5px;height:65px;box-sizing:border-box;border:2.4px solid #456196;border-radius:6.5px;"></div>
<svg class="i" style="left:2202.6px;top:153.7px;width:25.4px;height:25.3px;" viewBox="0 -1536 1792 1792" preserveAspectRatio="none"><path fill="#456196" transform="scale(1,-1)" d="M1792 640q0 -26 -19 -45l-256 -256q-19 -19 -45 -19t-45 19t-19 45v128h-384v-384h128q26 0 45 -19t19 -45t-19 -45l-256 -256q-19 -19 -45 -19t-45 19l-256 256q-19 19 -19 45t19 45t45 19h128v384h-384v-128q0 -26 -19 -45t-45 -19t-45 19l-256 256q-19 19 -19 45
t19 45l256 256q19 19 45 19t45 -19t19 -45v-128h384v384h-128q-26 0 -45 19t-19 45t19 45l256 256q19 19 45 19t45 -19l256 -256q19 -19 19 -45t-19 -45t-45 -19h-128v-384h384v128q0 26 19 45t45 19t45 -19l256 -256q19 -19 19 -45z"/></svg>
<span class="t" style="left:2239.84px;top:153.53px;font-size:26.3px;color:#456196;font-weight:700;letter-spacing:-0.77px;">SPOSTA</span>
<div class="b" style="left:2368.2px;top:134.4px;width:209.4px;height:65px;box-sizing:border-box;border:2.4px solid #456196;border-radius:6.5px;"></div>
<div class="b" style="left:2395.9px;top:164.6px;width:20.4px;height:3.2px;background:#456196;border-radius:1.6px"></div>
<div class="b" style="left:2404.5px;top:156px;width:3.2px;height:20.4px;background:#456196;border-radius:1.6px"></div>
<span class="t" style="left:2430.74px;top:153.53px;font-size:26.3px;color:#456196;font-weight:700;letter-spacing:-0.16px;">PRENOTA</span>
<div class="b" style="left:3498.2px;top:134.4px;width:211.1px;height:65px;box-sizing:border-box;border:2.4px solid #456196;border-radius:6.5px;"></div>
<div class="b" style="left:3573.7px;top:134.4px;width:2.4px;height:65px;background:#456196"></div>
<svg class="i" style="left:3523.3px;top:153.4px;width:28.1px;height:23.5px;" viewBox="0 -1344 1792 1408" preserveAspectRatio="none"><path fill="#456196" transform="scale(1,-1)" d="M384 128q0 -80 -56 -136t-136 -56t-136 56t-56 136t56 136t136 56t136 -56t56 -136zM384 640q0 -80 -56 -136t-136 -56t-136 56t-56 136t56 136t136 56t136 -56t56 -136zM1792 224v-192q0 -13 -9.5 -22.5t-22.5 -9.5h-1216q-13 0 -22.5 9.5t-9.5 22.5v192q0 13 9.5 22.5
t22.5 9.5h1216q13 0 22.5 -9.5t9.5 -22.5zM384 1152q0 -80 -56 -136t-136 -56t-136 56t-56 136t56 136t136 56t136 -56t56 -136zM1792 736v-192q0 -13 -9.5 -22.5t-22.5 -9.5h-1216q-13 0 -22.5 9.5t-9.5 22.5v192q0 13 9.5 22.5t22.5 9.5h1216q13 0 22.5 -9.5t9.5 -22.5z
M1792 1248v-192q0 -13 -9.5 -22.5t-22.5 -9.5h-1216q-13 0 -22.5 9.5t-9.5 22.5v192q0 13 9.5 22.5t22.5 9.5h1216q13 0 22.5 -9.5t9.5 -22.5z"/></svg>
<span class="t" style="left:3597.8px;top:153.43px;font-size:26.3px;color:#456196;font-weight:700;letter-spacing:-2.29px;">TAGS</span>
<svg class="i" style="left:3674.8px;top:164px;width:11.2px;height:5.8px" viewBox="0 0 11 6"><path fill="#456196" d="M0 0h11L5.500 6z"/></svg>
<div class="b" style="left:3724.5px;top:134.4px;width:75.1px;height:65px;box-sizing:border-box;border:2.4px solid #456196;border-radius:6.5px;"></div>
<svg class="i" style="left:3749px;top:153.4px;width:24.8px;height:25.8px;" viewBox="0 -1408 1536 1536" preserveAspectRatio="none"><path fill="#456196" transform="scale(1,-1)" d="M1024 640q0 106 -75 181t-181 75t-181 -75t-75 -181t75 -181t181 -75t181 75t75 181zM1536 749v-222q0 -12 -8 -23t-20 -13l-185 -28q-19 -54 -39 -91q35 -50 107 -138q10 -12 10 -25t-9 -23q-27 -37 -99 -108t-94 -71q-12 0 -26 9l-138 108q-44 -23 -91 -38
q-16 -136 -29 -186q-7 -28 -36 -28h-222q-14 0 -24.5 8.5t-11.5 21.5l-28 184q-49 16 -90 37l-141 -107q-10 -9 -25 -9q-14 0 -25 11q-126 114 -165 168q-7 10 -7 23q0 12 8 23q15 21 51 66.5t54 70.5q-27 50 -41 99l-183 27q-13 2 -21 12.5t-8 23.5v222q0 12 8 23t19 13
l186 28q14 46 39 92q-40 57 -107 138q-10 12 -10 24q0 10 9 23q26 36 98.5 107.5t94.5 71.5q13 0 26 -10l138 -107q44 23 91 38q16 136 29 186q7 28 36 28h222q14 0 24.5 -8.5t11.5 -21.5l28 -184q49 -16 90 -37l142 107q9 9 24 9q13 0 25 -10q129 -119 165 -170q7 -8 7 -22
q0 -12 -8 -23q-15 -21 -51 -66.5t-54 -70.5q26 -50 41 -98l183 -28q13 -2 21 -12.5t8 -23.5z"/></svg>
<div class="b" style="left:946.6px;top:217px;width:2827.9px;height:146px;background:#fff"></div>
<div class="b" style="left:461px;top:363px;width:486px;height:1739.4px;background:#fff"></div>
<div class="cl">
<div class="b" style="left:946.6px;top:269px;width:2827.9px;height:50px;background:#fdfdfd"></div>
<div class="b" style="left:2454.5px;top:269px;width:110px;height:50px;background:#efefef"></div>
<div class="b" style="left:914.5px;top:407px;width:110px;height:276px;background:#f4f4f4"></div>
<div class="b" style="left:1574.5px;top:407px;width:110px;height:276px;background:#f4f4f4"></div>
<div class="b" style="left:1684.5px;top:407px;width:110px;height:276px;background:#f4f4f4"></div>
<div class="b" style="left:2344.5px;top:407px;width:110px;height:276px;background:#f4f4f4"></div>
<div class="b" style="left:2454.5px;top:407px;width:110px;height:276px;background:#f4f4f4"></div>
<div class="b" style="left:3114.5px;top:407px;width:110px;height:276px;background:#f4f4f4"></div>
<div class="b" style="left:3224.5px;top:407px;width:110px;height:276px;background:#f4f4f4"></div>
<div class="b" style="left:3554.5px;top:407px;width:110px;height:276px;background:#e9f4ff"></div>
<div class="b" style="left:914.5px;top:729px;width:110px;height:1012px;background:#f4f4f4"></div>
<div class="b" style="left:1574.5px;top:729px;width:110px;height:1012px;background:#f4f4f4"></div>
<div class="b" style="left:1684.5px;top:729px;width:110px;height:1012px;background:#f4f4f4"></div>
<div class="b" style="left:2344.5px;top:729px;width:110px;height:1012px;background:#f4f4f4"></div>
<div class="b" style="left:2454.5px;top:729px;width:110px;height:1012px;background:#f4f4f4"></div>
<div class="b" style="left:3114.5px;top:729px;width:110px;height:1012px;background:#f4f4f4"></div>
<div class="b" style="left:3224.5px;top:729px;width:110px;height:1012px;background:#f4f4f4"></div>
<div class="b" style="left:3554.5px;top:729px;width:110px;height:1012px;background:#e9f4ff"></div>
<div class="b" style="left:914.5px;top:1787px;width:110px;height:315.4px;background:#f4f4f4"></div>
<div class="b" style="left:1574.5px;top:1787px;width:110px;height:315.4px;background:#f4f4f4"></div>
<div class="b" style="left:1684.5px;top:1787px;width:110px;height:315.4px;background:#f4f4f4"></div>
<div class="b" style="left:2344.5px;top:1787px;width:110px;height:315.4px;background:#f4f4f4"></div>
<div class="b" style="left:2454.5px;top:1787px;width:110px;height:315.4px;background:#f4f4f4"></div>
<div class="b" style="left:3114.5px;top:1787px;width:110px;height:315.4px;background:#f4f4f4"></div>
<div class="b" style="left:3224.5px;top:1787px;width:110px;height:315.4px;background:#f4f4f4"></div>
<div class="b" style="left:3554.5px;top:1787px;width:110px;height:315.4px;background:#e9f4ff"></div>
<div class="b" style="left:946.6px;top:1603px;width:2718.7px;height:138px;background:#fff1db"></div>
<div class="b" style="left:914.5px;top:1603px;width:110px;height:138px;background:#ffe7bd"></div>
<div class="b" style="left:1574.5px;top:1603px;width:110px;height:138px;background:#ffe7bd"></div>
<div class="b" style="left:1684.5px;top:1603px;width:110px;height:138px;background:#ffe7bd"></div>
<div class="b" style="left:2344.5px;top:1603px;width:110px;height:138px;background:#ffe7bd"></div>
<div class="b" style="left:2454.5px;top:1603px;width:110px;height:138px;background:#ffe7bd"></div>
<div class="b" style="left:3114.5px;top:1603px;width:110px;height:138px;background:#ffe7bd"></div>
<div class="b" style="left:3224.5px;top:1603px;width:110px;height:138px;background:#ffe7bd"></div>
<div class="b" style="left:3554.5px;top:1603px;width:110px;height:138px;background:#ffe7bd"></div>
<div class="b" style="left:1024px;top:269px;width:2px;height:1833.4px;background:rgba(0,0,0,.055)"></div>
<div class="b" style="left:1134px;top:269px;width:2px;height:1833.4px;background:rgba(0,0,0,.055)"></div>
<div class="b" style="left:1244px;top:269px;width:2px;height:1833.4px;background:rgba(0,0,0,.055)"></div>
<div class="b" style="left:1354px;top:269px;width:2px;height:1833.4px;background:rgba(0,0,0,.055)"></div>
<div class="b" style="left:1464px;top:269px;width:2px;height:1833.4px;background:rgba(0,0,0,.055)"></div>
<div class="b" style="left:1574px;top:269px;width:2px;height:1833.4px;background:rgba(0,0,0,.055)"></div>
<div class="b" style="left:1684px;top:269px;width:2px;height:1833.4px;background:rgba(0,0,0,.055)"></div>
<div class="b" style="left:1794px;top:269px;width:2px;height:1833.4px;background:rgba(0,0,0,.055)"></div>
<div class="b" style="left:1904px;top:269px;width:2px;height:1833.4px;background:rgba(0,0,0,.055)"></div>
<div class="b" style="left:2014px;top:269px;width:2px;height:1833.4px;background:rgba(0,0,0,.055)"></div>
<div class="b" style="left:2124px;top:269px;width:2px;height:1833.4px;background:rgba(0,0,0,.055)"></div>
<div class="b" style="left:2234px;top:269px;width:2px;height:1833.4px;background:rgba(0,0,0,.055)"></div>
<div class="b" style="left:2344px;top:269px;width:2px;height:1833.4px;background:rgba(0,0,0,.055)"></div>
<div class="b" style="left:2454px;top:269px;width:2px;height:1833.4px;background:rgba(0,0,0,.055)"></div>
<div class="b" style="left:2564px;top:269px;width:2px;height:1833.4px;background:rgba(0,0,0,.055)"></div>
<div class="b" style="left:2674px;top:269px;width:2px;height:1833.4px;background:rgba(0,0,0,.055)"></div>
<div class="b" style="left:2784px;top:269px;width:2px;height:1833.4px;background:rgba(0,0,0,.055)"></div>
<div class="b" style="left:2894px;top:269px;width:2px;height:1833.4px;background:rgba(0,0,0,.055)"></div>
<div class="b" style="left:3004px;top:269px;width:2px;height:1833.4px;background:rgba(0,0,0,.055)"></div>
<div class="b" style="left:3114px;top:269px;width:2px;height:1833.4px;background:rgba(0,0,0,.055)"></div>
<div class="b" style="left:3224px;top:269px;width:2px;height:1833.4px;background:rgba(0,0,0,.055)"></div>
<div class="b" style="left:3334px;top:269px;width:2px;height:1833.4px;background:rgba(0,0,0,.055)"></div>
<div class="b" style="left:3444px;top:269px;width:2px;height:1833.4px;background:rgba(0,0,0,.055)"></div>
<div class="b" style="left:3554px;top:269px;width:2px;height:1833.4px;background:rgba(0,0,0,.055)"></div>
<div class="b" style="left:3664px;top:269px;width:2px;height:1833.4px;background:rgba(0,0,0,.055)"></div>
<div class="b" style="left:946.6px;top:452px;width:2718.7px;height:2px;background:rgba(0,0,0,.055)"></div>
<div class="b" style="left:946.6px;top:498px;width:2718.7px;height:2px;background:rgba(0,0,0,.055)"></div>
<div class="b" style="left:946.6px;top:544px;width:2718.7px;height:2px;background:rgba(0,0,0,.055)"></div>
<div class="b" style="left:946.6px;top:590px;width:2718.7px;height:2px;background:rgba(0,0,0,.055)"></div>
<div class="b" style="left:946.6px;top:636px;width:2718.7px;height:2px;background:rgba(0,0,0,.055)"></div>
<div class="b" style="left:946.6px;top:774px;width:2718.7px;height:2px;background:rgba(0,0,0,.055)"></div>
<div class="b" style="left:946.6px;top:820px;width:2718.7px;height:2px;background:rgba(0,0,0,.055)"></div>
<div class="b" style="left:946.6px;top:866px;width:2718.7px;height:2px;background:rgba(0,0,0,.055)"></div>
<div class="b" style="left:946.6px;top:912px;width:2718.7px;height:2px;background:rgba(0,0,0,.055)"></div>
<div class="b" style="left:946.6px;top:958px;width:2718.7px;height:2px;background:rgba(0,0,0,.055)"></div>
<div class="b" style="left:946.6px;top:1004px;width:2718.7px;height:2px;background:rgba(0,0,0,.055)"></div>
<div class="b" style="left:946.6px;top:1050px;width:2718.7px;height:2px;background:rgba(0,0,0,.055)"></div>
<div class="b" style="left:946.6px;top:1096px;width:2718.7px;height:2px;background:rgba(0,0,0,.055)"></div>
<div class="b" style="left:946.6px;top:1142px;width:2718.7px;height:2px;background:rgba(0,0,0,.055)"></div>
<div class="b" style="left:946.6px;top:1188px;width:2718.7px;height:2px;background:rgba(0,0,0,.055)"></div>
<div class="b" style="left:946.6px;top:1234px;width:2718.7px;height:2px;background:rgba(0,0,0,.055)"></div>
<div class="b" style="left:946.6px;top:1280px;width:2718.7px;height:2px;background:rgba(0,0,0,.055)"></div>
<div class="b" style="left:946.6px;top:1326px;width:2718.7px;height:2px;background:rgba(0,0,0,.055)"></div>
<div class="b" style="left:946.6px;top:1372px;width:2718.7px;height:2px;background:rgba(0,0,0,.055)"></div>
<div class="b" style="left:946.6px;top:1418px;width:2718.7px;height:2px;background:rgba(0,0,0,.055)"></div>
<div class="b" style="left:946.6px;top:1464px;width:2718.7px;height:2px;background:rgba(0,0,0,.055)"></div>
<div class="b" style="left:946.6px;top:1510px;width:2718.7px;height:2px;background:rgba(0,0,0,.055)"></div>
<div class="b" style="left:946.6px;top:1556px;width:2718.7px;height:2px;background:rgba(0,0,0,.055)"></div>
<div class="b" style="left:946.6px;top:1602px;width:2718.7px;height:2px;background:rgba(0,0,0,.055)"></div>
<div class="b" style="left:946.6px;top:1648px;width:2718.7px;height:2px;background:rgba(0,0,0,.055)"></div>
<div class="b" style="left:946.6px;top:1694px;width:2718.7px;height:2px;background:rgba(0,0,0,.055)"></div>
<div class="b" style="left:946.6px;top:1832px;width:2718.7px;height:2px;background:rgba(0,0,0,.055)"></div>
<div class="b" style="left:946.6px;top:1878px;width:2718.7px;height:2px;background:rgba(0,0,0,.055)"></div>
<div class="b" style="left:946.6px;top:1924px;width:2718.7px;height:2px;background:rgba(0,0,0,.055)"></div>
<div class="b" style="left:946.6px;top:1970px;width:2718.7px;height:2px;background:rgba(0,0,0,.055)"></div>
<div class="b" style="left:946.6px;top:2016px;width:2718.7px;height:2px;background:rgba(0,0,0,.055)"></div>
<div class="b" style="left:946.6px;top:2062px;width:2718.7px;height:2px;background:rgba(0,0,0,.055)"></div>
<div class="b" style="left:2013.5px;top:217px;width:2px;height:52px;background:rgba(0,0,0,.055)"></div>
<div class="b" style="left:946.6px;top:361.6px;width:2718.7px;height:2.6px;background:#d8d8d8"></div>
<div class="b" style="left:946.6px;top:405.8px;width:2718.7px;height:2.4px;background:#e4e4e4"></div>
<div class="b" style="left:946.6px;top:681.8px;width:2718.7px;height:2.6px;background:#d8d8d8"></div>
<div class="b" style="left:946.6px;top:727.8px;width:2718.7px;height:2.4px;background:#e4e4e4"></div>
<div class="b" style="left:946.6px;top:1739.8px;width:2718.7px;height:2.6px;background:#d8d8d8"></div>
<div class="b" style="left:946.6px;top:1785.8px;width:2718.7px;height:2.4px;background:#e4e4e4"></div>
<span class="t" style="left:2030.21px;top:227.41px;font-size:25.5px;color:#787878;letter-spacing:0.61px;">Maggio</span>
<span class="t" style="left:927.16px;top:278.06px;font-size:25.8px;color:#787878;font-weight:700;letter-spacing:-0.47px;">21 dom</span>
<span class="t" style="left:935.87px;top:328.21px;font-size:25.5px;color:#787878;letter-spacing:1.59px;">36/42</span>
<span class="t" style="left:950.27px;top:370.31px;font-size:25.5px;color:#787878;letter-spacing:2.72px;">6/6</span>
<span class="t" style="left:935.49px;top:692.31px;font-size:25.5px;color:#787878;letter-spacing:1.52px;">17/19</span>
<span class="t" style="left:943.17px;top:1750.31px;font-size:25.5px;color:#787878;letter-spacing:1.94px;">8/12</span>
<span class="t" style="left:1044.99px;top:278.06px;font-size:25.8px;color:#787878;letter-spacing:0.34px;">22 lun</span>
<span class="t" style="left:1045.87px;top:328.21px;font-size:25.5px;color:#787878;letter-spacing:1.59px;">38/42</span>
<span class="t" style="left:1060.44px;top:370.31px;font-size:25.5px;color:#787878;letter-spacing:2.9px;">4/6</span>
<span class="t" style="left:1045.49px;top:692.31px;font-size:25.5px;color:#787878;letter-spacing:1.52px;">16/19</span>
<span class="t" style="left:1045.39px;top:1750.31px;font-size:25.5px;color:#787878;letter-spacing:1.59px;">12/12</span>
<span class="t" style="left:1149.92px;top:278.06px;font-size:25.8px;color:#787878;letter-spacing:0.12px;">23 mar</span>
<span class="t" style="left:1155.87px;top:328.21px;font-size:25.5px;color:#787878;letter-spacing:1.59px;">36/42</span>
<span class="t" style="left:1170.57px;top:370.31px;font-size:25.5px;color:#787878;letter-spacing:2.56px;">5/6</span>
<span class="t" style="left:1155.49px;top:692.31px;font-size:25.5px;color:#787878;letter-spacing:1.52px;">16/19</span>
<span class="t" style="left:1155.39px;top:1750.31px;font-size:25.5px;color:#787878;letter-spacing:1.59px;">12/12</span>
<span class="t" style="left:1259.51px;top:278.06px;font-size:25.8px;color:#787878;letter-spacing:0.28px;">24 mer</span>
<span class="t" style="left:1265.87px;top:328.21px;font-size:25.5px;color:#787878;letter-spacing:1.59px;">31/42</span>
<span class="t" style="left:1280.44px;top:370.31px;font-size:25.5px;color:#787878;letter-spacing:2.9px;">4/6</span>
<span class="t" style="left:1265.49px;top:692.31px;font-size:25.5px;color:#787878;letter-spacing:1.52px;">14/19</span>
<span class="t" style="left:1265.39px;top:1750.31px;font-size:25.5px;color:#787878;letter-spacing:1.59px;">10/12</span>
<span class="t" style="left:1375px;top:278.06px;font-size:25.8px;color:#787878;letter-spacing:0.22px;">25 gio</span>
<span class="t" style="left:1375.87px;top:328.21px;font-size:25.5px;color:#787878;letter-spacing:1.59px;">30/42</span>
<span class="t" style="left:1390.45px;top:370.31px;font-size:25.5px;color:#787878;letter-spacing:2.7px;">3/6</span>
<span class="t" style="left:1375.49px;top:692.31px;font-size:25.5px;color:#787878;letter-spacing:1.52px;">15/19</span>
<span class="t" style="left:1383.13px;top:1750.31px;font-size:25.5px;color:#787878;letter-spacing:1.93px;">9/12</span>
<span class="t" style="left:1482.22px;top:278.06px;font-size:25.8px;color:#787878;letter-spacing:0.01px;">26 ven</span>
<span class="t" style="left:1485.61px;top:328.21px;font-size:25.5px;color:#787878;letter-spacing:1.64px;">28/42</span>
<span class="t" style="left:1500.45px;top:370.31px;font-size:25.5px;color:#787878;letter-spacing:2.7px;">3/6</span>
<span class="t" style="left:1485.49px;top:692.31px;font-size:25.5px;color:#787878;letter-spacing:1.52px;">13/19</span>
<span class="t" style="left:1493.13px;top:1750.31px;font-size:25.5px;color:#787878;letter-spacing:1.93px;">9/12</span>
<span class="t" style="left:1592.92px;top:278.06px;font-size:25.8px;color:#787878;font-weight:700;letter-spacing:-0.88px;">27 sab</span>
<span class="t" style="left:1595.61px;top:328.21px;font-size:25.5px;color:#787878;letter-spacing:1.64px;">27/42</span>
<span class="t" style="left:1610.44px;top:370.31px;font-size:25.5px;color:#787878;letter-spacing:2.9px;">4/6</span>
<span class="t" style="left:1595.49px;top:692.31px;font-size:25.5px;color:#787878;letter-spacing:1.52px;">12/19</span>
<span class="t" style="left:1603.04px;top:1750.31px;font-size:25.5px;color:#787878;letter-spacing:1.96px;">7/12</span>
<span class="t" style="left:1697.16px;top:278.06px;font-size:25.8px;color:#787878;font-weight:700;letter-spacing:-0.47px;">28 dom</span>
<span class="t" style="left:1705.61px;top:328.21px;font-size:25.5px;color:#787878;letter-spacing:1.64px;">29/42</span>
<span class="t" style="left:1720.44px;top:370.31px;font-size:25.5px;color:#787878;letter-spacing:2.9px;">4/6</span>
<span class="t" style="left:1705.49px;top:692.31px;font-size:25.5px;color:#787878;letter-spacing:1.52px;">13/19</span>
<span class="t" style="left:1713.04px;top:1750.31px;font-size:25.5px;color:#787878;letter-spacing:1.96px;">7/12</span>
<span class="t" style="left:1814.99px;top:278.06px;font-size:25.8px;color:#787878;letter-spacing:0.34px;">29 lun</span>
<span class="t" style="left:1815.87px;top:328.21px;font-size:25.5px;color:#787878;letter-spacing:1.59px;">30/42</span>
<span class="t" style="left:1830.57px;top:370.31px;font-size:25.5px;color:#787878;letter-spacing:2.56px;">5/6</span>
<span class="t" style="left:1815.49px;top:692.31px;font-size:25.5px;color:#787878;letter-spacing:1.52px;">13/19</span>
<span class="t" style="left:1823.04px;top:1750.31px;font-size:25.5px;color:#787878;letter-spacing:1.96px;">7/12</span>
<span class="t" style="left:1920.18px;top:278.06px;font-size:25.8px;color:#787878;letter-spacing:0.08px;">30 mar</span>
<span class="t" style="left:1925.87px;top:328.21px;font-size:25.5px;color:#787878;letter-spacing:1.59px;">33/42</span>
<span class="t" style="left:1940.44px;top:370.31px;font-size:25.5px;color:#787878;letter-spacing:2.9px;">4/6</span>
<span class="t" style="left:1925.49px;top:692.31px;font-size:25.5px;color:#787878;letter-spacing:1.52px;">15/19</span>
<span class="t" style="left:1933.13px;top:1750.31px;font-size:25.5px;color:#787878;letter-spacing:1.93px;">9/12</span>
<span class="t" style="left:2036.84px;top:278.06px;font-size:25.8px;color:#787878;letter-spacing:0.11px;">1 mer</span>
<span class="t" style="left:2035.87px;top:328.21px;font-size:25.5px;color:#787878;letter-spacing:1.59px;">31/42</span>
<span class="t" style="left:2050.57px;top:370.31px;font-size:25.5px;color:#787878;letter-spacing:2.56px;">5/6</span>
<span class="t" style="left:2035.49px;top:692.31px;font-size:25.5px;color:#787878;letter-spacing:1.52px;">13/19</span>
<span class="t" style="left:2043.13px;top:1750.31px;font-size:25.5px;color:#787878;letter-spacing:1.93px;">9/12</span>
<span class="t" style="left:2152.54px;top:278.06px;font-size:25.8px;color:#787878;letter-spacing:0.09px;">2 gio</span>
<span class="t" style="left:2145.61px;top:328.21px;font-size:25.5px;color:#787878;letter-spacing:1.64px;">21/42</span>
<span class="t" style="left:2160.44px;top:370.31px;font-size:25.5px;color:#787878;letter-spacing:2.9px;">4/6</span>
<span class="t" style="left:2153.23px;top:692.31px;font-size:25.5px;color:#787878;letter-spacing:1.84px;">9/19</span>
<span class="t" style="left:2153.05px;top:1750.31px;font-size:25.5px;color:#787878;letter-spacing:1.95px;">6/12</span>
<span class="t" style="left:2260.03px;top:278.06px;font-size:25.8px;color:#787878;letter-spacing:-0.22px;">3 ven</span>
<span class="t" style="left:2255.39px;top:328.21px;font-size:25.5px;color:#787878;letter-spacing:1.59px;">19/42</span>
<span class="t" style="left:2270.45px;top:370.31px;font-size:25.5px;color:#787878;letter-spacing:2.7px;">3/6</span>
<span class="t" style="left:2263.26px;top:692.31px;font-size:25.5px;color:#787878;letter-spacing:1.85px;">8/19</span>
<span class="t" style="left:2263.04px;top:1750.31px;font-size:25.5px;color:#787878;letter-spacing:1.96px;">7/12</span>
<span class="t" style="left:2370.52px;top:278.06px;font-size:25.8px;color:#787878;font-weight:700;letter-spacing:-1.19px;">4 sab</span>
<span class="t" style="left:2365.61px;top:328.21px;font-size:25.5px;color:#787878;letter-spacing:1.64px;">20/42</span>
<span class="t" style="left:2380.45px;top:370.31px;font-size:25.5px;color:#787878;letter-spacing:2.7px;">3/6</span>
<span class="t" style="left:2373.23px;top:692.31px;font-size:25.5px;color:#787878;letter-spacing:1.84px;">9/19</span>
<span class="t" style="left:2373.05px;top:1750.31px;font-size:25.5px;color:#787878;letter-spacing:1.95px;">6/12</span>
<span class="t" style="left:2474.87px;top:278.06px;font-size:25.8px;color:#787878;font-weight:700;letter-spacing:-0.83px;">5 dom</span>
<span class="t" style="left:2475.61px;top:328.21px;font-size:25.5px;color:#787878;letter-spacing:1.64px;">23/42</span>
<span class="t" style="left:2490.45px;top:370.31px;font-size:25.5px;color:#787878;letter-spacing:2.7px;">3/6</span>
<span class="t" style="left:2475.49px;top:692.31px;font-size:25.5px;color:#787878;letter-spacing:1.99px;">11/19</span>
<span class="t" style="left:2483.04px;top:1750.31px;font-size:25.5px;color:#787878;letter-spacing:1.96px;">7/12</span>
<span class="t" style="left:2592.61px;top:278.06px;font-size:25.8px;color:#787878;letter-spacing:0.2px;">6 lun</span>
<span class="t" style="left:2585.61px;top:328.21px;font-size:25.5px;color:#787878;letter-spacing:1.64px;">26/42</span>
<span class="t" style="left:2600.45px;top:370.31px;font-size:25.5px;color:#787878;letter-spacing:2.7px;">3/6</span>
<span class="t" style="left:2585.49px;top:692.31px;font-size:25.5px;color:#787878;letter-spacing:1.52px;">12/19</span>
<span class="t" style="left:2593.04px;top:1750.31px;font-size:25.5px;color:#787878;letter-spacing:1.96px;">7/12</span>
<span class="t" style="left:2697.52px;top:278.06px;font-size:25.8px;color:#787878;letter-spacing:-0.07px;">7 mar</span>
<span class="t" style="left:2695.87px;top:328.21px;font-size:25.5px;color:#787878;letter-spacing:1.59px;">32/42</span>
<span class="t" style="left:2710.19px;top:370.31px;font-size:25.5px;color:#787878;letter-spacing:2.8px;">2/6</span>
<span class="t" style="left:2695.49px;top:692.31px;font-size:25.5px;color:#787878;letter-spacing:1.52px;">14/19</span>
<span class="t" style="left:2695.39px;top:1750.31px;font-size:25.5px;color:#787878;letter-spacing:2.06px;">11/12</span>
<span class="t" style="left:2807.25px;top:278.06px;font-size:25.8px;color:#787878;letter-spacing:0.11px;">8 mer</span>
<span class="t" style="left:2805.87px;top:328.21px;font-size:25.5px;color:#787878;letter-spacing:1.59px;">34/42</span>
<span class="t" style="left:2820.44px;top:370.31px;font-size:25.5px;color:#787878;letter-spacing:2.9px;">4/6</span>
<span class="t" style="left:2805.49px;top:692.31px;font-size:25.5px;color:#787878;letter-spacing:1.52px;">14/19</span>
<span class="t" style="left:2805.39px;top:1750.31px;font-size:25.5px;color:#787878;letter-spacing:1.59px;">12/12</span>
<span class="t" style="left:2922.7px;top:278.06px;font-size:25.8px;color:#787878;letter-spacing:0.03px;">9 gio</span>
<span class="t" style="left:2915.61px;top:328.21px;font-size:25.5px;color:#787878;letter-spacing:1.64px;">27/42</span>
<span class="t" style="left:2930.45px;top:370.31px;font-size:25.5px;color:#787878;letter-spacing:2.7px;">3/6</span>
<span class="t" style="left:2915.49px;top:692.31px;font-size:25.5px;color:#787878;letter-spacing:1.99px;">11/19</span>
<span class="t" style="left:2915.39px;top:1750.31px;font-size:25.5px;color:#787878;letter-spacing:1.59px;">10/12</span>
<span class="t" style="left:3022.01px;top:278.06px;font-size:25.8px;color:#787878;letter-spacing:-0.04px;">10 ven</span>
<span class="t" style="left:3025.61px;top:328.21px;font-size:25.5px;color:#787878;letter-spacing:1.64px;">20/42</span>
<span class="t" style="left:3040.19px;top:370.31px;font-size:25.5px;color:#787878;letter-spacing:2.8px;">2/6</span>
<span class="t" style="left:3033.23px;top:692.31px;font-size:25.5px;color:#787878;letter-spacing:1.84px;">9/19</span>
<span class="t" style="left:3033.05px;top:1750.31px;font-size:25.5px;color:#787878;letter-spacing:1.95px;">6/12</span>
<span class="t" style="left:3132.55px;top:278.06px;font-size:25.8px;color:#787878;font-weight:700;letter-spacing:-0.59px;">11 sab</span>
<span class="t" style="left:3135.61px;top:328.21px;font-size:25.5px;color:#787878;letter-spacing:1.64px;">20/42</span>
<span class="t" style="left:3150.19px;top:370.31px;font-size:25.5px;color:#787878;letter-spacing:2.8px;">2/6</span>
<span class="t" style="left:3143.23px;top:692.31px;font-size:25.5px;color:#787878;letter-spacing:1.84px;">9/19</span>
<span class="t" style="left:3143.05px;top:1750.31px;font-size:25.5px;color:#787878;letter-spacing:1.95px;">6/12</span>
<span class="t" style="left:3236.78px;top:278.06px;font-size:25.8px;color:#787878;font-weight:700;letter-spacing:-0.46px;">12 dom</span>
<span class="t" style="left:3245.39px;top:328.21px;font-size:25.5px;color:#787878;letter-spacing:1.59px;">19/42</span>
<span class="t" style="left:3260.19px;top:370.31px;font-size:25.5px;color:#787878;letter-spacing:2.8px;">2/6</span>
<span class="t" style="left:3253.26px;top:692.31px;font-size:25.5px;color:#787878;letter-spacing:1.85px;">8/19</span>
<span class="t" style="left:3253.05px;top:1750.31px;font-size:25.5px;color:#787878;letter-spacing:1.95px;">6/12</span>
<span class="t" style="left:3354.77px;top:278.06px;font-size:25.8px;color:#787878;letter-spacing:0.29px;">13 lun</span>
<span class="t" style="left:3355.61px;top:328.21px;font-size:25.5px;color:#787878;letter-spacing:1.64px;">29/42</span>
<span class="t" style="left:3370.45px;top:370.31px;font-size:25.5px;color:#787878;letter-spacing:2.7px;">3/6</span>
<span class="t" style="left:3355.49px;top:692.31px;font-size:25.5px;color:#787878;letter-spacing:1.52px;">10/19</span>
<span class="t" style="left:3355.39px;top:1750.31px;font-size:25.5px;color:#787878;letter-spacing:2.06px;">11/12</span>
<span class="t" style="left:3459.7px;top:278.06px;font-size:25.8px;color:#787878;letter-spacing:0.07px;">14 mar</span>
<span class="t" style="left:3465.61px;top:328.21px;font-size:25.5px;color:#787878;letter-spacing:1.64px;">28/42</span>
<span class="t" style="left:3480.19px;top:370.31px;font-size:25.5px;color:#787878;letter-spacing:2.8px;">2/6</span>
<span class="t" style="left:3465.49px;top:692.31px;font-size:25.5px;color:#787878;letter-spacing:1.52px;">10/19</span>
<span class="t" style="left:3465.39px;top:1750.31px;font-size:25.5px;color:#787878;letter-spacing:2.06px;">11/12</span>
<span class="t" style="left:3569.3px;top:278.06px;font-size:25.8px;color:#5b9ffa;letter-spacing:0.23px;">15 mer</span>
<span class="t" style="left:3575.87px;top:328.21px;font-size:25.5px;color:#787878;letter-spacing:1.59px;">32/42</span>
<span class="t" style="left:3590.45px;top:370.31px;font-size:25.5px;color:#787878;letter-spacing:2.7px;">3/6</span>
<span class="t" style="left:3575.49px;top:692.31px;font-size:25.5px;color:#787878;letter-spacing:1.52px;">14/19</span>
<span class="t" style="left:3575.39px;top:1750.31px;font-size:25.5px;color:#787878;letter-spacing:1.59px;">10/12</span>
<div class="b" style="left:1795.5px;top:307.6px;width:108px;height:10.4px;background:#ff0000"></div>
<div class="b" style="left:3555.5px;top:307.6px;width:108px;height:10.4px;background:#ff0000"></div>
<svg class="i" style="left:1028.2px;top:411.7px;width:119.1px;height:38.1px;" viewBox="0 0 119.1 38.1"><polygon points="0,0 108.1,0 119.1,19.05 108.1,38.1 0,38.1 11,19.05" fill="#4877a9" stroke="rgba(255,255,255,.75)" stroke-width="1.6"/></svg>
<span class="t" style="left:1055.27px;top:415.89px;font-size:28px;color:#fff;font-weight:700;letter-spacing:-2.4px;">Rossi</span>
<svg class="i" style="left:1908.2px;top:411.7px;width:559.1px;height:38.1px;" viewBox="0 0 559.1 38.1"><polygon points="0,0 548.1,0 559.1,19.05 548.1,38.1 0,38.1 11,19.05" fill="#4877a9" stroke="rgba(255,255,255,.75)" stroke-width="1.6"/></svg>
<span class="t" style="left:2146.48px;top:415.89px;font-size:28px;color:#fff;font-weight:700;letter-spacing:-0.73px;">Vryzas</span>
<svg class="i" style="left:2458.2px;top:411.7px;width:339.1px;height:38.1px;" viewBox="0 0 339.1 38.1"><polygon points="0,0 328.1,0 339.1,19.05 328.1,38.1 0,38.1 11,19.05" fill="#4877a9" stroke="rgba(255,255,255,.75)" stroke-width="1.6"/></svg>
<span class="t" style="left:2578.6px;top:415.89px;font-size:28px;color:#fff;font-weight:700;letter-spacing:-1.22px;">Rudiger</span>
<svg class="i" style="left:2898.2px;top:411.7px;width:449.1px;height:38.1px;" viewBox="0 0 449.1 38.1"><polygon points="0,0 438.1,0 449.1,19.05 438.1,38.1 0,38.1 11,19.05" fill="#4877a9" stroke="rgba(255,255,255,.75)" stroke-width="1.6"/></svg>
<span class="t" style="left:3063.14px;top:415.89px;font-size:28px;color:#fff;font-weight:700;letter-spacing:-0.33px;">Almatour</span>
<svg class="i" style="left:3338.2px;top:411.7px;width:779.1px;height:38.1px;" viewBox="0 0 779.1 38.1"><polygon points="0,0 768.1,0 779.1,19.05 768.1,38.1 0,38.1 11,19.05" fill="#4877a9" stroke="rgba(255,255,255,.75)" stroke-width="1.6"/></svg>
<span class="t" style="left:3615.45px;top:415.89px;font-size:28px;color:#fff;font-weight:700;letter-spacing:-0.84px;">Garibaldi Travel</span>
<svg class="i" style="left:1028.2px;top:457.7px;width:339.1px;height:38.1px;" viewBox="0 0 339.1 38.1"><polygon points="0,0 328.1,0 339.1,19.05 328.1,38.1 0,38.1 11,19.05" fill="#4877a9" stroke="rgba(255,255,255,.75)" stroke-width="1.6"/></svg>
<svg class="i" style="left:2898.2px;top:457.7px;width:449.1px;height:38.1px;" viewBox="0 0 449.1 38.1"><polygon points="0,0 438.1,0 449.1,19.05 438.1,38.1 0,38.1 11,19.05" fill="#4877a9" stroke="rgba(255,255,255,.75)" stroke-width="1.6"/></svg>
<span class="t" style="left:3063.14px;top:461.89px;font-size:28px;color:#fff;font-weight:700;letter-spacing:-0.33px;">Almatour</span>
<svg class="i" style="left:2238.2px;top:503.7px;width:559.1px;height:38.1px;" viewBox="0 0 559.1 38.1"><polygon points="0,0 548.1,0 559.1,19.05 548.1,38.1 0,38.1 11,19.05" fill="#4877a9" stroke="rgba(255,255,255,.75)" stroke-width="1.6"/></svg>
<span class="t" style="left:2459.33px;top:507.89px;font-size:28px;color:#fff;font-weight:700;letter-spacing:-0.83px;">Baldarelli</span>
<svg class="i" style="left:1358.2px;top:549.7px;width:669.1px;height:38.1px;" viewBox="0 0 669.1 38.1"><polygon points="0,0 658.1,0 669.1,19.05 658.1,38.1 0,38.1 11,19.05" fill="#4877a9" stroke="rgba(255,255,255,.75)" stroke-width="1.6"/></svg>
<span class="t" style="left:1625.52px;top:553.89px;font-size:28px;color:#fff;font-weight:700;letter-spacing:-0.85px;">Abbagnale</span>
<div class="b" style="left:2679px;top:550.5px;width:211px;height:36.5px;background:#e69648"></div>
<span class="t" style="left:2678.54px;top:553.89px;font-size:28px;color:#fff;font-weight:700;letter-spacing:-0.95px;">lavandin</span>
<svg class="i" style="left:2831px;top:559.7px;width:18px;height:20.5px;" viewBox="0 -1408 1152 1408" preserveAspectRatio="none"><path fill="#fff" transform="scale(1,-1)" d="M320 768h512v192q0 106 -75 181t-181 75t-181 -75t-75 -181v-192zM1152 672v-576q0 -40 -28 -68t-68 -28h-960q-40 0 -68 28t-28 68v576q0 40 28 68t68 28h32v192q0 184 132 316t316 132t316 -132t132 -316v-192h32q40 0 68 -28t28 -68z"/></svg>
<svg class="i" style="left:3008.2px;top:549.7px;width:339.1px;height:38.1px;" viewBox="0 0 339.1 38.1"><polygon points="0,0 328.1,0 339.1,19.05 328.1,38.1 0,38.1 11,19.05" fill="#4877a9" stroke="rgba(255,255,255,.75)" stroke-width="1.6"/></svg>
<span class="t" style="left:3110.03px;top:553.89px;font-size:28px;color:#fff;font-weight:700;letter-spacing:-0.82px;">Amici Tour</span>
<svg class="i" style="left:3448.2px;top:549.7px;width:339.1px;height:38.1px;" viewBox="0 0 339.1 38.1"><polygon points="0,0 328.1,0 339.1,19.05 328.1,38.1 0,38.1 11,19.05" fill="#4877a9" stroke="rgba(255,255,255,.75)" stroke-width="1.6"/></svg>
<span class="t" style="left:3563.69px;top:553.89px;font-size:28px;color:#fff;font-weight:700;letter-spacing:-1.26px;">Tressoldi</span>
<svg class="i" style="left:1248.2px;top:595.7px;width:339.1px;height:38.1px;" viewBox="0 0 339.1 38.1"><polygon points="0,0 328.1,0 339.1,19.05 328.1,38.1 0,38.1 11,19.05" fill="#4877a9" stroke="rgba(255,255,255,.75)" stroke-width="1.6"/></svg>
<span class="t" style="left:1370.76px;top:599.89px;font-size:28px;color:#fff;font-weight:700;letter-spacing:-1.23px;">Fancelli</span>
<svg class="i" style="left:2568.2px;top:595.7px;width:559.1px;height:38.1px;" viewBox="0 0 559.1 38.1"><polygon points="0,0 548.1,0 559.1,19.05 548.1,38.1 0,38.1 11,19.05" fill="#4877a9" stroke="rgba(255,255,255,.75)" stroke-width="1.6"/></svg>
<span class="t" style="left:2807.28px;top:599.89px;font-size:28px;color:#fff;font-weight:700;letter-spacing:-0.96px;">Cheng</span>
<svg class="i" style="left:3338.2px;top:595.7px;width:339.1px;height:38.1px;" viewBox="0 0 339.1 38.1"><defs><pattern id="st5" width="56" height="56" patternUnits="userSpaceOnUse" patternTransform="rotate(-45)"><rect width="56" height="56" fill="#4877a9"/><rect width="28" height="56" fill="rgba(255,255,255,.2)"/></pattern></defs><polygon points="0,0 328.1,0 339.1,19.05 328.1,38.1 0,38.1 11,19.05" fill="url(#st5)" stroke="rgba(255,255,255,.75)" stroke-width="1.6"/></svg>
<span class="t" style="left:3464.79px;top:599.89px;font-size:28px;color:#fff;font-weight:700;letter-spacing:-0.95px;">Furiani</span>
<svg class="i" style="left:1358.2px;top:641.7px;width:449.1px;height:38.1px;" viewBox="0 0 449.1 38.1"><polygon points="0,0 438.1,0 449.1,19.05 438.1,38.1 0,38.1 11,19.05" fill="#4877a9" stroke="rgba(255,255,255,.75)" stroke-width="1.6"/></svg>
<span class="t" style="left:1517.53px;top:645.89px;font-size:28px;color:#fff;font-weight:700;letter-spacing:-0.67px;">Skywalker</span>
<svg class="i" style="left:2128.2px;top:641.7px;width:449.1px;height:38.1px;" viewBox="0 0 449.1 38.1"><polygon points="0,0 438.1,0 449.1,19.05 438.1,38.1 0,38.1 11,19.05" fill="#4877a9" stroke="rgba(255,255,255,.75)" stroke-width="1.6"/></svg>
<span class="t" style="left:2298.34px;top:645.89px;font-size:28px;color:#fff;font-weight:700;letter-spacing:-0.78px;">Ozzocap</span>
<svg class="i" style="left:3118.2px;top:641.7px;width:449.1px;height:38.1px;" viewBox="0 0 449.1 38.1"><polygon points="0,0 438.1,0 449.1,19.05 438.1,38.1 0,38.1 11,19.05" fill="#4877a9" stroke="rgba(255,255,255,.75)" stroke-width="1.6"/></svg>
<span class="t" style="left:3309.67px;top:645.89px;font-size:28px;color:#fff;font-weight:700;letter-spacing:-2.09px;">Bossi</span>
<svg class="i" style="left:2898.2px;top:733.7px;width:449.1px;height:38.1px;" viewBox="0 0 449.1 38.1"><polygon points="0,0 438.1,0 449.1,19.05 438.1,38.1 0,38.1 11,19.05" fill="#4877a9" stroke="rgba(255,255,255,.75)" stroke-width="1.6"/></svg>
<span class="t" style="left:3063.14px;top:737.89px;font-size:28px;color:#fff;font-weight:700;letter-spacing:-0.33px;">Almatour</span>
<svg class="i" style="left:3338.2px;top:733.7px;width:779.1px;height:38.1px;" viewBox="0 0 779.1 38.1"><polygon points="0,0 768.1,0 779.1,19.05 768.1,38.1 0,38.1 11,19.05" fill="#4877a9" stroke="rgba(255,255,255,.75)" stroke-width="1.6"/></svg>
<span class="t" style="left:3615.45px;top:737.89px;font-size:28px;color:#fff;font-weight:700;letter-spacing:-0.84px;">Garibaldi Travel</span>
<svg class="i" style="left:2898.2px;top:779.7px;width:449.1px;height:38.1px;" viewBox="0 0 449.1 38.1"><polygon points="0,0 438.1,0 449.1,19.05 438.1,38.1 0,38.1 11,19.05" fill="#4877a9" stroke="rgba(255,255,255,.75)" stroke-width="1.6"/></svg>
<span class="t" style="left:3063.14px;top:783.89px;font-size:28px;color:#fff;font-weight:700;letter-spacing:-0.33px;">Almatour</span>
<svg class="i" style="left:3338.2px;top:779.7px;width:779.1px;height:38.1px;" viewBox="0 0 779.1 38.1"><polygon points="0,0 768.1,0 779.1,19.05 768.1,38.1 0,38.1 11,19.05" fill="#4877a9" stroke="rgba(255,255,255,.75)" stroke-width="1.6"/></svg>
<span class="t" style="left:3615.45px;top:783.89px;font-size:28px;color:#fff;font-weight:700;letter-spacing:-0.84px;">Garibaldi Travel</span>
<svg class="i" style="left:2128.2px;top:825.7px;width:559.1px;height:38.1px;filter:drop-shadow(0 3px 3px rgba(0,0,0,.35));" viewBox="0 0 559.1 38.1"><polygon points="0,0 548.1,0 559.1,19.05 548.1,38.1 0,38.1 11,19.05" fill="#7ba7db" stroke="#bfe6ff" stroke-width="1.6"/></svg>
<span class="t" style="left:2310.22px;top:829.89px;font-size:28px;color:#fff;font-weight:700;letter-spacing:-0.84px;">Garibaldi Travel</span>
<svg class="i" style="left:2788.2px;top:825.7px;width:339.1px;height:38.1px;" viewBox="0 0 339.1 38.1"><polygon points="0,0 328.1,0 339.1,19.05 328.1,38.1 0,38.1 11,19.05" fill="#4877a9" stroke="rgba(255,255,255,.75)" stroke-width="1.6"/></svg>
<span class="t" style="left:2906.7px;top:829.89px;font-size:28px;color:#fff;font-weight:700;letter-spacing:-1.16px;">Calabria</span>
<svg class="i" style="left:3228.2px;top:825.7px;width:339.1px;height:38.1px;" viewBox="0 0 339.1 38.1"><polygon points="0,0 328.1,0 339.1,19.05 328.1,38.1 0,38.1 11,19.05" fill="#4877a9" stroke="rgba(255,255,255,.75)" stroke-width="1.6"/></svg>
<span class="t" style="left:3332.53px;top:829.89px;font-size:28px;color:#fff;font-weight:700;letter-spacing:-0.67px;">Skywalker</span>
<svg class="i" style="left:3558.2px;top:825.7px;width:119.1px;height:38.1px;" viewBox="0 0 119.1 38.1"><polygon points="0,0 108.1,0 119.1,19.05 108.1,38.1 0,38.1 11,19.05" fill="#4877a9" stroke="rgba(255,255,255,.75)" stroke-width="1.6"/></svg>
<span class="t" style="left:3568.53px;top:829.89px;font-size:28px;color:#fff;font-weight:700;letter-spacing:-2.04px;">Burag…</span>
<svg class="i" style="left:2898.2px;top:871.7px;width:449.1px;height:38.1px;" viewBox="0 0 449.1 38.1"><polygon points="0,0 438.1,0 449.1,19.05 438.1,38.1 0,38.1 11,19.05" fill="#4877a9" stroke="rgba(255,255,255,.75)" stroke-width="1.6"/></svg>
<span class="t" style="left:3063.14px;top:875.89px;font-size:28px;color:#fff;font-weight:700;letter-spacing:-0.33px;">Almatour</span>
<svg class="i" style="left:2898.2px;top:917.7px;width:119.1px;height:38.1px;" viewBox="0 0 119.1 38.1"><polygon points="0,0 108.1,0 119.1,19.05 108.1,38.1 0,38.1 11,19.05" fill="#4877a9" stroke="rgba(255,255,255,.75)" stroke-width="1.6"/></svg>
<span class="t" style="left:2923.13px;top:921.89px;font-size:28px;color:#fff;font-weight:700;letter-spacing:-1.31px;">Slope</span>
<svg class="i" style="left:2678.2px;top:1009.7px;width:449.1px;height:38.1px;" viewBox="0 0 449.1 38.1"><polygon points="0,0 438.1,0 449.1,19.05 438.1,38.1 0,38.1 11,19.05" fill="#4877a9" stroke="rgba(255,255,255,.75)" stroke-width="1.6"/></svg>
<span class="t" style="left:2851.69px;top:1013.89px;font-size:28px;color:#fff;font-weight:700;letter-spacing:-1.26px;">Pancaro</span>
<svg class="i" style="left:2788.2px;top:1101.7px;width:339.1px;height:38.1px;" viewBox="0 0 339.1 38.1"><polygon points="0,0 328.1,0 339.1,19.05 328.1,38.1 0,38.1 11,19.05" fill="#4877a9" stroke="rgba(255,255,255,.75)" stroke-width="1.6"/></svg>
<span class="t" style="left:2915.28px;top:1105.89px;font-size:28px;color:#fff;font-weight:700;letter-spacing:-0.76px;">Buffon</span>
<svg class="i" style="left:3118.2px;top:1101.7px;width:449.1px;height:38.1px;" viewBox="0 0 449.1 38.1"><polygon points="0,0 438.1,0 449.1,19.05 438.1,38.1 0,38.1 11,19.05" fill="#4877a9" stroke="rgba(255,255,255,.75)" stroke-width="1.6"/></svg>
<span class="t" style="left:3282.08px;top:1105.89px;font-size:28px;color:#fff;font-weight:700;letter-spacing:-0.54px;">Angiolieri</span>
<svg class="i" style="left:3338.2px;top:1147.7px;width:449.1px;height:38.1px;" viewBox="0 0 449.1 38.1"><polygon points="0,0 438.1,0 449.1,19.05 438.1,38.1 0,38.1 11,19.05" fill="#4877a9" stroke="rgba(255,255,255,.75)" stroke-width="1.6"/></svg>
<span class="t" style="left:3519.55px;top:1151.89px;font-size:28px;color:#fff;font-weight:700;letter-spacing:0.1px;">Alberti</span>
<svg class="i" style="left:698.2px;top:1193.7px;width:559.1px;height:38.1px;" viewBox="0 0 559.1 38.1"><polygon points="0,0 548.1,0 559.1,19.05 548.1,38.1 0,38.1 11,19.05" fill="#4877a9" stroke="rgba(255,255,255,.75)" stroke-width="1.6"/></svg>
<svg class="i" style="left:3008.2px;top:1239.7px;width:559.1px;height:38.1px;" viewBox="0 0 559.1 38.1"><polygon points="0,0 548.1,0 559.1,19.05 548.1,38.1 0,38.1 11,19.05" fill="#4877a9" stroke="rgba(255,255,255,.75)" stroke-width="1.6"/></svg>
<span class="t" style="left:3209.52px;top:1243.89px;font-size:28px;color:#fff;font-weight:700;letter-spacing:-0.62px;">Macchiavelli</span>
<svg class="i" style="left:2458.2px;top:1285.7px;width:449.1px;height:38.1px;" viewBox="0 0 449.1 38.1"><polygon points="0,0 438.1,0 449.1,19.05 438.1,38.1 0,38.1 11,19.05" fill="#4877a9" stroke="rgba(255,255,255,.75)" stroke-width="1.6"/></svg>
<svg class="i" style="left:3118.2px;top:1331.7px;width:449.1px;height:38.1px;" viewBox="0 0 449.1 38.1"><polygon points="0,0 438.1,0 449.1,19.05 438.1,38.1 0,38.1 11,19.05" fill="#4877a9" stroke="rgba(255,255,255,.75)" stroke-width="1.6"/></svg>
<span class="t" style="left:3308.88px;top:1335.89px;font-size:28px;color:#fff;font-weight:700;letter-spacing:-0.23px;">Doku</span>
<svg class="i" style="left:698.2px;top:1377.7px;width:559.1px;height:38.1px;" viewBox="0 0 559.1 38.1"><polygon points="0,0 548.1,0 559.1,19.05 548.1,38.1 0,38.1 11,19.05" fill="#4877a9" stroke="rgba(255,255,255,.75)" stroke-width="1.6"/></svg>
<span class="t" style="left:910.85px;top:1381.89px;font-size:28px;color:#fff;font-weight:700;letter-spacing:-0.91px;">Gagliardi</span>
<svg class="i" style="left:2568.2px;top:1423.7px;width:449.1px;height:38.1px;" viewBox="0 0 449.1 38.1"><polygon points="0,0 438.1,0 449.1,19.05 438.1,38.1 0,38.1 11,19.05" fill="#4877a9" stroke="rgba(255,255,255,.75)" stroke-width="1.6"/></svg>
<svg class="i" style="left:1248.2px;top:1469.7px;width:339.1px;height:38.1px;" viewBox="0 0 339.1 38.1"><polygon points="0,0 328.1,0 339.1,19.05 328.1,38.1 0,38.1 11,19.05" fill="#4877a9" stroke="rgba(255,255,255,.75)" stroke-width="1.6"/></svg>
<span class="t" style="left:1370.5px;top:1473.89px;font-size:28px;color:#fff;font-weight:700;letter-spacing:-1.04px;">Dimash</span>
<svg class="i" style="left:2238.2px;top:1469.7px;width:339.1px;height:38.1px;" viewBox="0 0 339.1 38.1"><polygon points="0,0 328.1,0 339.1,19.05 328.1,38.1 0,38.1 11,19.05" fill="#4877a9" stroke="rgba(255,255,255,.75)" stroke-width="1.6"/></svg>
<span class="t" style="left:2357.47px;top:1473.89px;font-size:28px;color:#fff;font-weight:700;letter-spacing:-0.33px;">Mancini</span>
<svg class="i" style="left:3118.2px;top:1515.7px;width:449.1px;height:38.1px;" viewBox="0 0 449.1 38.1"><polygon points="0,0 438.1,0 449.1,19.05 438.1,38.1 0,38.1 11,19.05" fill="#4877a9" stroke="rgba(255,255,255,.75)" stroke-width="1.6"/></svg>
<span class="t" style="left:3273.99px;top:1519.89px;font-size:28px;color:#fff;font-weight:700;letter-spacing:-0.67px;">Archimede</span>
<svg class="i" style="left:3008.2px;top:1607.7px;width:339.1px;height:38.1px;" viewBox="0 0 339.1 38.1"><polygon points="0,0 328.1,0 339.1,19.05 328.1,38.1 0,38.1 11,19.05" fill="#4877a9" stroke="rgba(255,255,255,.75)" stroke-width="1.6"/></svg>
<span class="t" style="left:3110.03px;top:1611.89px;font-size:28px;color:#fff;font-weight:700;letter-spacing:-0.82px;">Amici Tour</span>
<svg class="i" style="left:3338.2px;top:1607.7px;width:779.1px;height:38.1px;" viewBox="0 0 779.1 38.1"><polygon points="0,0 768.1,0 779.1,19.05 768.1,38.1 0,38.1 11,19.05" fill="#4877a9" stroke="rgba(255,255,255,.75)" stroke-width="1.6"/></svg>
<span class="t" style="left:3617.45px;top:1611.89px;font-size:28px;color:#fff;font-weight:700;letter-spacing:-1.39px;">buraggina</span>
<svg class="i" style="left:3008.2px;top:1653.7px;width:339.1px;height:38.1px;" viewBox="0 0 339.1 38.1"><polygon points="0,0 328.1,0 339.1,19.05 328.1,38.1 0,38.1 11,19.05" fill="#4877a9" stroke="rgba(255,255,255,.75)" stroke-width="1.6"/></svg>
<span class="t" style="left:3110.03px;top:1657.89px;font-size:28px;color:#fff;font-weight:700;letter-spacing:-0.82px;">Amici Tour</span>
<svg class="i" style="left:3008.2px;top:1699.7px;width:339.1px;height:38.1px;" viewBox="0 0 339.1 38.1"><polygon points="0,0 328.1,0 339.1,19.05 328.1,38.1 0,38.1 11,19.05" fill="#4877a9" stroke="rgba(255,255,255,.75)" stroke-width="1.6"/></svg>
<span class="t" style="left:3110.03px;top:1703.89px;font-size:28px;color:#fff;font-weight:700;letter-spacing:-0.82px;">Amici Tour</span>
<svg class="i" style="left:698.2px;top:1791.7px;width:339.1px;height:38.1px;" viewBox="0 0 339.1 38.1"><polygon points="0,0 328.1,0 339.1,19.05 328.1,38.1 0,38.1 11,19.05" fill="#4877a9" stroke="rgba(255,255,255,.75)" stroke-width="1.6"/></svg>
<span class="t" style="left:892.43px;top:1795.89px;font-size:28px;color:#fff;font-weight:700;letter-spacing:-0.56px;">Gaetano</span>
<svg class="i" style="left:1248.2px;top:1791.7px;width:669.1px;height:38.1px;" viewBox="0 0 669.1 38.1"><polygon points="0,0 658.1,0 669.1,19.05 658.1,38.1 0,38.1 11,19.05" fill="#4877a9" stroke="rgba(255,255,255,.75)" stroke-width="1.6"/></svg>
<span class="t" style="left:1550.27px;top:1795.89px;font-size:28px;color:#fff;font-weight:700;letter-spacing:-2.4px;">Rossi</span>
<svg class="i" style="left:2018.2px;top:1791.7px;width:449.1px;height:38.1px;" viewBox="0 0 449.1 38.1"><polygon points="0,0 438.1,0 449.1,19.05 438.1,38.1 0,38.1 11,19.05" fill="#4877a9" stroke="rgba(255,255,255,.75)" stroke-width="1.6"/></svg>
<span class="t" style="left:2213.92px;top:1795.89px;font-size:28px;color:#fff;font-weight:700;letter-spacing:-1.1px;">Rizzi</span>
<svg class="i" style="left:2898.2px;top:1791.7px;width:449.1px;height:38.1px;" viewBox="0 0 449.1 38.1"><polygon points="0,0 438.1,0 449.1,19.05 438.1,38.1 0,38.1 11,19.05" fill="#4877a9" stroke="rgba(255,255,255,.75)" stroke-width="1.6"/></svg>
<span class="t" style="left:3063.14px;top:1795.89px;font-size:28px;color:#fff;font-weight:700;letter-spacing:-0.33px;">Almatour</span>
<svg class="i" style="left:3338.2px;top:1791.7px;width:779.1px;height:38.1px;" viewBox="0 0 779.1 38.1"><polygon points="0,0 768.1,0 779.1,19.05 768.1,38.1 0,38.1 11,19.05" fill="#4877a9" stroke="rgba(255,255,255,.75)" stroke-width="1.6"/></svg>
<span class="t" style="left:3620.73px;top:1795.89px;font-size:28px;color:#fff;font-weight:700;letter-spacing:-0.87px;">Palermo</span>
<svg class="i" style="left:698.2px;top:1837.7px;width:339.1px;height:38.1px;" viewBox="0 0 339.1 38.1"><polygon points="0,0 328.1,0 339.1,19.05 328.1,38.1 0,38.1 11,19.05" fill="#4877a9" stroke="rgba(255,255,255,.75)" stroke-width="1.6"/></svg>
<svg class="i" style="left:2128.2px;top:1837.7px;width:559.1px;height:38.1px;filter:drop-shadow(0 3px 3px rgba(0,0,0,.35));" viewBox="0 0 559.1 38.1"><polygon points="0,0 548.1,0 559.1,19.05 548.1,38.1 0,38.1 11,19.05" fill="#7ba7db" stroke="#bfe6ff" stroke-width="1.6"/></svg>
<span class="t" style="left:2310.22px;top:1841.89px;font-size:28px;color:#fff;font-weight:700;letter-spacing:-0.84px;">Garibaldi Travel</span>
<svg class="i" style="left:2898.2px;top:1837.7px;width:449.1px;height:38.1px;" viewBox="0 0 449.1 38.1"><polygon points="0,0 438.1,0 449.1,19.05 438.1,38.1 0,38.1 11,19.05" fill="#4877a9" stroke="rgba(255,255,255,.75)" stroke-width="1.6"/></svg>
<span class="t" style="left:3063.14px;top:1841.89px;font-size:28px;color:#fff;font-weight:700;letter-spacing:-0.33px;">Almatour</span>
<svg class="i" style="left:3558.2px;top:1837.7px;width:339.1px;height:38.1px;" viewBox="0 0 339.1 38.1"><polygon points="0,0 328.1,0 339.1,19.05 328.1,38.1 0,38.1 11,19.05" fill="#4877a9" stroke="rgba(255,255,255,.75)" stroke-width="1.6"/></svg>
<svg class="i" style="left:2128.2px;top:1883.7px;width:559.1px;height:38.1px;filter:drop-shadow(0 3px 3px rgba(0,0,0,.35));" viewBox="0 0 559.1 38.1"><polygon points="0,0 548.1,0 559.1,19.05 548.1,38.1 0,38.1 11,19.05" fill="#7ba7db" stroke="#bfe6ff" stroke-width="1.6"/></svg>
<span class="t" style="left:2310.22px;top:1887.89px;font-size:28px;color:#fff;font-weight:700;letter-spacing:-0.84px;">Garibaldi Travel</span>
<svg class="i" style="left:1358.2px;top:1929.7px;width:559.1px;height:38.1px;" viewBox="0 0 559.1 38.1"><polygon points="0,0 548.1,0 559.1,19.05 548.1,38.1 0,38.1 11,19.05" fill="#4877a9" stroke="rgba(255,255,255,.75)" stroke-width="1.6"/></svg>
<span class="t" style="left:1570.59px;top:1933.89px;font-size:28px;color:#fff;font-weight:700;letter-spacing:-0.89px;">Pierangelo</span>
<svg class="i" style="left:2128.2px;top:1929.7px;width:559.1px;height:38.1px;filter:drop-shadow(0 3px 3px rgba(0,0,0,.35));" viewBox="0 0 559.1 38.1"><polygon points="0,0 548.1,0 559.1,19.05 548.1,38.1 0,38.1 11,19.05" fill="#7ba7db" stroke="#bfe6ff" stroke-width="1.6"/></svg>
<span class="t" style="left:2310.22px;top:1933.89px;font-size:28px;color:#fff;font-weight:700;letter-spacing:-0.84px;">Garibaldi Travel</span>
<svg class="i" style="left:1578.2px;top:1975.7px;width:449.1px;height:38.1px;" viewBox="0 0 449.1 38.1"><polygon points="0,0 438.1,0 449.1,19.05 438.1,38.1 0,38.1 11,19.05" fill="#4877a9" stroke="rgba(255,255,255,.75)" stroke-width="1.6"/></svg>
<span class="t" style="left:1744.55px;top:1979.89px;font-size:28px;color:#fff;font-weight:700;letter-spacing:-1.44px;">Rampulla</span>
<svg class="i" style="left:2128.2px;top:1975.7px;width:559.1px;height:38.1px;filter:drop-shadow(0 3px 3px rgba(0,0,0,.35));" viewBox="0 0 559.1 38.1"><polygon points="0,0 548.1,0 559.1,19.05 548.1,38.1 0,38.1 11,19.05" fill="#7ba7db" stroke="#bfe6ff" stroke-width="1.6"/></svg>
<span class="t" style="left:2310.22px;top:1979.89px;font-size:28px;color:#fff;font-weight:700;letter-spacing:-0.84px;">Garibaldi Travel</span>
<svg class="i" style="left:1248.2px;top:2021.7px;width:449.1px;height:38.1px;" viewBox="0 0 449.1 38.1"><polygon points="0,0 438.1,0 449.1,19.05 438.1,38.1 0,38.1 11,19.05" fill="#4877a9" stroke="rgba(255,255,255,.75)" stroke-width="1.6"/></svg>
<span class="t" style="left:1399.4px;top:2025.89px;font-size:28px;color:#fff;font-weight:700;letter-spacing:-0.76px;">D&#x27;Annunzio</span>
<svg class="i" style="left:698.2px;top:2067.7px;width:339.1px;height:38.1px;" viewBox="0 0 339.1 38.1"><polygon points="0,0 328.1,0 339.1,19.05 328.1,38.1 0,38.1 11,19.05" fill="#4877a9" stroke="rgba(255,255,255,.75)" stroke-width="1.6"/></svg>
<svg class="i" style="left:1688.2px;top:2067.7px;width:449.1px;height:38.1px;" viewBox="0 0 449.1 38.1"><polygon points="0,0 438.1,0 449.1,19.05 438.1,38.1 0,38.1 11,19.05" fill="#4877a9" stroke="rgba(255,255,255,.75)" stroke-width="1.6"/></svg>
<span class="t" style="left:1871.67px;top:2071.89px;font-size:28px;color:#fff;font-weight:700;letter-spacing:-1.61px;">Tomba</span>
</div>
<div class="b" style="left:946.6px;top:216px;width:2827.9px;height:2px;background:#d8d8d8"></div>
<div class="b" style="left:946.6px;top:268px;width:2827.9px;height:1.6px;background:rgba(0,0,0,.055)"></div>
<div class="b" style="left:946.6px;top:317.8px;width:2827.9px;height:2px;background:#e4e4e4"></div>
<div class="b" style="left:3773.5px;top:216px;width:2px;height:1886.4px;background:#e4e4e4"></div>
<div class="b" style="left:3664.3px;top:363px;width:2px;height:1739.4px;background:#d8d8d8"></div>
<div class="b" style="left:945.6px;top:216px;width:2px;height:1886.4px;background:#e4e4e4"></div>
<div class="lp">
<div class="b" style="left:461px;top:821px;width:486px;height:46px;background:rgba(0,0,0,.06)"></div>
<div class="b" style="left:461px;top:1603px;width:486px;height:138px;background:#fff1db"></div>
<span class="t" style="left:476.12px;top:369.42px;font-size:28.8px;color:#6f6f6f;font-weight:700;letter-spacing:-1.34px;">Camera Singola</span>
<svg class="i" style="left:824.8px;top:380.8px;width:16.8px;height:10.2px;" viewBox="77 -883 998 582" preserveAspectRatio="none"><path fill="#6f6f6f" transform="scale(1,-1)" d="M1075 800q0 -13 -10 -23l-466 -466q-10 -10 -23 -10t-23 10l-466 466q-10 10 -10 23t10 23l50 50q10 10 23 10t23 -10l393 -393l393 393q10 10 23 10t23 -10l50 -50q10 -10 10 -23z"/></svg>
<svg class="i" style="left:865px;top:369.5px;width:32px;height:32px" viewBox="0 0 32 32"><g fill="none" stroke="#6f6f6f" stroke-width="2.3" stroke-linejoin="round" stroke-linecap="round"><path d="M29.500 2L17.500 14.500"/><path d="M12.500 10.500l9 9-6.500 9.500L3 17z"/><path d="M9 13.500l9.500 9.500"/></g></svg>
<svg class="i" style="left:909px;top:369.5px;width:32px;height:32px" viewBox="0 0 32 32"><path fill="none" stroke="#6f6f6f" stroke-width="2.3" stroke-linejoin="round" stroke-linecap="round" d="M28.600 8.300l-4.600 4.600-4.300-.7-.700-4.300 4.600-4.600a7.600 7.600 0 0 0-9.700 9.600L3.600 23.200a3.100 3.100 0 0 0 0 4.400 3.100 3.100 0 0 0 4.400 0l10.300-10.300a7.600 7.600 0 0 0 10.300-9z"/></svg>
<span class="t" style="left:477px;top:415.67px;font-size:28.5px;color:#787878;letter-spacing:-0.6px;">102 - Camera Singola</span>
<div class="b" style="left:867px;top:415.7px;width:28px;height:28px;background:#ac3235;border-radius:50%"></div>
<span class="t" style="left:477px;top:461.67px;font-size:28.5px;color:#787878;letter-spacing:-0.6px;">103 - Camera Singola</span>
<div class="b" style="left:867px;top:461.7px;width:28px;height:28px;background:#ac3235;border-radius:50%"></div>
<span class="t" style="left:477px;top:507.67px;font-size:28.5px;color:#787878;letter-spacing:-0.59px;">203 - Camera Singola</span>
<div class="b" style="left:867px;top:507.7px;width:28px;height:28px;background:#ac3235;border-radius:50%"></div>
<span class="t" style="left:477px;top:553.67px;font-size:28.5px;color:#787878;letter-spacing:-0.59px;">204 - Camera Singola</span>
<div class="b" style="left:867px;top:553.7px;width:28px;height:28px;background:#ac3235;border-radius:50%"></div>
<div class="b" style="left:459.2px;top:546px;width:11px;height:46px;background:#089661;clip-path:polygon(0 0,100% 0,100% 94%,0 100%)"></div>
<span class="t" style="left:477px;top:599.67px;font-size:28.5px;color:#787878;letter-spacing:-0.59px;">205 - Camera Singola</span>
<div class="b" style="left:867px;top:599.7px;width:28px;height:28px;background:#ac3235;border-radius:50%"></div>
<span class="t" style="left:477px;top:645.67px;font-size:28.5px;color:#787878;letter-spacing:-0.59px;">206 - Camera Singola</span>
<div class="b" style="left:867px;top:645.7px;width:28px;height:28px;background:#ac3235;border-radius:50%"></div>
<span class="t" style="left:476.12px;top:691.42px;font-size:28.8px;color:#6f6f6f;font-weight:700;letter-spacing:-0.8px;">Camera Matrimoniale S…</span>
<svg class="i" style="left:824.8px;top:702.8px;width:16.8px;height:10.2px;" viewBox="77 -883 998 582" preserveAspectRatio="none"><path fill="#6f6f6f" transform="scale(1,-1)" d="M1075 800q0 -13 -10 -23l-466 -466q-10 -10 -23 -10t-23 10l-466 466q-10 10 -10 23t10 23l50 50q10 10 23 10t23 -10l393 -393l393 393q10 10 23 10t23 -10l50 -50q10 -10 10 -23z"/></svg>
<svg class="i" style="left:865px;top:691.5px;width:32px;height:32px" viewBox="0 0 32 32"><g fill="none" stroke="#6f6f6f" stroke-width="2.3" stroke-linejoin="round" stroke-linecap="round"><path d="M29.500 2L17.500 14.500"/><path d="M12.500 10.500l9 9-6.500 9.500L3 17z"/><path d="M9 13.500l9.500 9.500"/></g></svg>
<svg class="i" style="left:909px;top:691.5px;width:32px;height:32px" viewBox="0 0 32 32"><path fill="none" stroke="#6f6f6f" stroke-width="2.3" stroke-linejoin="round" stroke-linecap="round" d="M28.600 8.300l-4.600 4.600-4.300-.7-.700-4.300 4.600-4.600a7.600 7.600 0 0 0-9.700 9.600L3.600 23.200a3.100 3.100 0 0 0 0 4.400 3.100 3.100 0 0 0 4.400 0l10.300-10.300a7.600 7.600 0 0 0 10.300-9z"/></svg>
<span class="t" style="left:477px;top:737.67px;font-size:28.5px;color:#787878;letter-spacing:-0.16px;">105 - Camera Matrimoniale …</span>
<div class="b" style="left:867px;top:737.7px;width:28px;height:28px;background:#ac3235;border-radius:50%"></div>
<span class="t" style="left:477px;top:783.67px;font-size:28.5px;color:#787878;letter-spacing:-0.16px;">106 - Camera Matrimoniale …</span>
<div class="b" style="left:867px;top:783.7px;width:28px;height:28px;background:#ac3235;border-radius:50%"></div>
<div class="b" style="left:459.2px;top:776px;width:11px;height:46px;background:#089661;clip-path:polygon(0 0,100% 0,100% 94%,0 100%)"></div>
<span class="t" style="left:477px;top:829.67px;font-size:28.5px;color:#787878;letter-spacing:-0.19px;">208 - Camera Matrimoniale …</span>
<div class="b" style="left:867px;top:829.7px;width:28px;height:28px;background:#ac3235;border-radius:50%"></div>
<span class="t" style="left:477px;top:875.67px;font-size:28.5px;color:#787878;letter-spacing:-0.19px;">209 - Camera Matrimoniale …</span>
<div class="b" style="left:867px;top:875.7px;width:28px;height:28px;background:#ac3235;border-radius:50%"></div>
<span class="t" style="left:477px;top:921.67px;font-size:28.5px;color:#787878;letter-spacing:-0.19px;">210 - Camera Matrimoniale …</span>
<div class="b" style="left:867px;top:921.7px;width:28px;height:28px;background:#ac3235;border-radius:50%"></div>
<span class="t" style="left:477px;top:967.67px;font-size:28.5px;color:#787878;letter-spacing:-0.2px;">310 - Camera Matrimoniale …</span>
<div class="b" style="left:867px;top:967.7px;width:28px;height:28px;background:#ac3235;border-radius:50%"></div>
<span class="t" style="left:477px;top:1013.67px;font-size:28.5px;color:#787878;letter-spacing:-0.12px;">311 - Camera Matrimoniale …</span>
<div class="b" style="left:867px;top:1013.7px;width:28px;height:28px;background:#ac3235;border-radius:50%"></div>
<span class="t" style="left:477px;top:1059.67px;font-size:28.5px;color:#787878;letter-spacing:-0.2px;">312 - Camera Matrimoniale …</span>
<div class="b" style="left:867px;top:1059.7px;width:28px;height:28px;background:#30aa35;border-radius:50%"></div>
<span class="t" style="left:477px;top:1105.67px;font-size:28.5px;color:#787878;letter-spacing:-0.2px;">313 - Camera Matrimoniale …</span>
<div class="b" style="left:867px;top:1105.7px;width:28px;height:28px;background:#ac3235;border-radius:50%"></div>
<span class="t" style="left:477px;top:1151.67px;font-size:28.5px;color:#787878;letter-spacing:-0.22px;">410 - Camera Matrimoniale …</span>
<div class="b" style="left:867px;top:1151.7px;width:28px;height:28px;background:#ac3235;border-radius:50%"></div>
<span class="t" style="left:477px;top:1197.67px;font-size:28.5px;color:#787878;letter-spacing:-0.14px;">411 - Camera Matrimoniale …</span>
<div class="b" style="left:867px;top:1197.7px;width:28px;height:28px;background:#ac3235;border-radius:50%"></div>
<span class="t" style="left:477px;top:1243.67px;font-size:28.5px;color:#787878;letter-spacing:-0.22px;">412 - Camera Matrimoniale …</span>
<div class="b" style="left:867px;top:1243.7px;width:28px;height:28px;background:#ac3235;border-radius:50%"></div>
<span class="t" style="left:477px;top:1289.67px;font-size:28.5px;color:#787878;letter-spacing:-0.22px;">413 - Camera Matrimoniale …</span>
<div class="b" style="left:867px;top:1289.7px;width:28px;height:28px;background:#ac3235;border-radius:50%"></div>
<div class="b" style="left:459.2px;top:1282px;width:11px;height:46px;background:#fa5e08;clip-path:polygon(0 0,100% 0,100% 94%,0 100%)"></div>
<span class="t" style="left:477px;top:1335.67px;font-size:28.5px;color:#787878;letter-spacing:-0.22px;">414 - Camera Matrimoniale …</span>
<div class="b" style="left:867px;top:1335.7px;width:28px;height:28px;background:#ac3235;border-radius:50%"></div>
<span class="t" style="left:477px;top:1381.67px;font-size:28.5px;color:#787878;letter-spacing:-0.22px;">415 - Camera Matrimoniale …</span>
<div class="b" style="left:867px;top:1381.7px;width:28px;height:28px;background:#ac3235;border-radius:50%"></div>
<span class="t" style="left:477px;top:1427.67px;font-size:28.5px;color:#787878;letter-spacing:-0.22px;">416 - Camera Matrimoniale …</span>
<div class="b" style="left:867px;top:1427.7px;width:28px;height:28px;background:#ac3235;border-radius:50%"></div>
<span class="t" style="left:477px;top:1473.67px;font-size:28.5px;color:#787878;letter-spacing:-0.22px;">417 - Camera Matrimoniale …</span>
<div class="b" style="left:867px;top:1473.7px;width:28px;height:28px;background:#ac3235;border-radius:50%"></div>
<span class="t" style="left:477px;top:1519.67px;font-size:28.5px;color:#787878;letter-spacing:-0.22px;">418 - Camera Matrimoniale …</span>
<div class="b" style="left:867px;top:1519.7px;width:28px;height:28px;background:#ac3235;border-radius:50%"></div>
<span class="t" style="left:477px;top:1565.67px;font-size:28.5px;color:#787878;letter-spacing:-0.22px;">419 - Camera Matrimoniale …</span>
<div class="b" style="left:867px;top:1565.7px;width:28px;height:28px;background:#30aa35;border-radius:50%"></div>
<span class="t" style="left:474.96px;top:1611.67px;font-size:28.5px;color:#787878;letter-spacing:-1.01px;">Da assegnare</span>
<span class="t" style="left:474.96px;top:1657.67px;font-size:28.5px;color:#787878;letter-spacing:-1.01px;">Da assegnare</span>
<span class="t" style="left:474.96px;top:1703.67px;font-size:28.5px;color:#787878;letter-spacing:-1.01px;">Da assegnare</span>
<span class="t" style="left:476.12px;top:1749.42px;font-size:28.8px;color:#6f6f6f;font-weight:700;letter-spacing:-0.8px;">Camera Matrimoniale S…</span>
<svg class="i" style="left:824.8px;top:1760.8px;width:16.8px;height:10.2px;" viewBox="77 -883 998 582" preserveAspectRatio="none"><path fill="#6f6f6f" transform="scale(1,-1)" d="M1075 800q0 -13 -10 -23l-466 -466q-10 -10 -23 -10t-23 10l-466 466q-10 10 -10 23t10 23l50 50q10 10 23 10t23 -10l393 -393l393 393q10 10 23 10t23 -10l50 -50q10 -10 10 -23z"/></svg>
<svg class="i" style="left:865px;top:1749.5px;width:32px;height:32px" viewBox="0 0 32 32"><g fill="none" stroke="#6f6f6f" stroke-width="2.3" stroke-linejoin="round" stroke-linecap="round"><path d="M29.500 2L17.500 14.500"/><path d="M12.500 10.500l9 9-6.500 9.500L3 17z"/><path d="M9 13.500l9.500 9.500"/></g></svg>
<svg class="i" style="left:909px;top:1749.5px;width:32px;height:32px" viewBox="0 0 32 32"><path fill="none" stroke="#6f6f6f" stroke-width="2.3" stroke-linejoin="round" stroke-linecap="round" d="M28.600 8.300l-4.600 4.600-4.300-.7-.700-4.300 4.600-4.600a7.600 7.600 0 0 0-9.700 9.600L3.600 23.200a3.100 3.100 0 0 0 0 4.400 3.100 3.100 0 0 0 4.400 0l10.300-10.300a7.600 7.600 0 0 0 10.300-9z"/></svg>
<span class="t" style="left:477px;top:1795.67px;font-size:28.5px;color:#787878;letter-spacing:-0.2px;">301 - Camera Matrimoniale …</span>
<div class="b" style="left:867px;top:1795.7px;width:28px;height:28px;background:#ac3235;border-radius:50%"></div>
<span class="t" style="left:477px;top:1841.67px;font-size:28.5px;color:#787878;letter-spacing:-0.2px;">302 - Camera Matrimoniale …</span>
<div class="b" style="left:867px;top:1841.7px;width:28px;height:28px;background:#ac3235;border-radius:50%"></div>
<span class="t" style="left:477px;top:1887.67px;font-size:28.5px;color:#787878;letter-spacing:-0.2px;">303 - Camera Matrimoniale …</span>
<div class="b" style="left:867px;top:1887.7px;width:28px;height:28px;background:#ac3235;border-radius:50%"></div>
<span class="t" style="left:477px;top:1933.67px;font-size:28.5px;color:#787878;letter-spacing:-0.2px;">304 - Camera Matrimoniale …</span>
<div class="b" style="left:867px;top:1933.7px;width:28px;height:28px;background:#ac3235;border-radius:50%"></div>
<span class="t" style="left:477px;top:1979.67px;font-size:28.5px;color:#787878;letter-spacing:-0.2px;">305 - Camera Matrimoniale …</span>
<div class="b" style="left:867px;top:1979.7px;width:28px;height:28px;background:#ac3235;border-radius:50%"></div>
<div class="b" style="left:910.6px;top:1979.7px;width:28px;height:28px;background:#f4945e;border-radius:50%"></div>
<span class="t" style="left:477px;top:2025.67px;font-size:28.5px;color:#787878;letter-spacing:-0.2px;">306 - Camera Matrimoniale …</span>
<div class="b" style="left:867px;top:2025.7px;width:28px;height:28px;background:#30aa35;border-radius:50%"></div>
<span class="t" style="left:477px;top:2071.67px;font-size:28.5px;color:#787878;letter-spacing:-0.2px;">307 - Camera Matrimoniale …</span>
<div class="b" style="left:867px;top:2071.7px;width:28px;height:28px;background:#ac3235;border-radius:50%"></div>
<div class="b" style="left:461px;top:452px;width:486px;height:2px;background:#e4e4e4"></div>
<div class="b" style="left:461px;top:498px;width:486px;height:2px;background:#e4e4e4"></div>
<div class="b" style="left:461px;top:544px;width:486px;height:2px;background:#e4e4e4"></div>
<div class="b" style="left:461px;top:590px;width:486px;height:2px;background:#e4e4e4"></div>
<div class="b" style="left:461px;top:636px;width:486px;height:2px;background:#e4e4e4"></div>
<div class="b" style="left:461px;top:774px;width:486px;height:2px;background:#e4e4e4"></div>
<div class="b" style="left:461px;top:820px;width:486px;height:2px;background:#e4e4e4"></div>
<div class="b" style="left:461px;top:866px;width:486px;height:2px;background:#e4e4e4"></div>
<div class="b" style="left:461px;top:912px;width:486px;height:2px;background:#e4e4e4"></div>
<div class="b" style="left:461px;top:958px;width:486px;height:2px;background:#e4e4e4"></div>
<div class="b" style="left:461px;top:1004px;width:486px;height:2px;background:#e4e4e4"></div>
<div class="b" style="left:461px;top:1050px;width:486px;height:2px;background:#e4e4e4"></div>
<div class="b" style="left:461px;top:1096px;width:486px;height:2px;background:#e4e4e4"></div>
<div class="b" style="left:461px;top:1142px;width:486px;height:2px;background:#e4e4e4"></div>
<div class="b" style="left:461px;top:1188px;width:486px;height:2px;background:#e4e4e4"></div>
<div class="b" style="left:461px;top:1234px;width:486px;height:2px;background:#e4e4e4"></div>
<div class="b" style="left:461px;top:1280px;width:486px;height:2px;background:#e4e4e4"></div>
<div class="b" style="left:461px;top:1326px;width:486px;height:2px;background:#e4e4e4"></div>
<div class="b" style="left:461px;top:1372px;width:486px;height:2px;background:#e4e4e4"></div>
<div class="b" style="left:461px;top:1418px;width:486px;height:2px;background:#e4e4e4"></div>
<div class="b" style="left:461px;top:1464px;width:486px;height:2px;background:#e4e4e4"></div>
<div class="b" style="left:461px;top:1510px;width:486px;height:2px;background:#e4e4e4"></div>
<div class="b" style="left:461px;top:1556px;width:486px;height:2px;background:#e4e4e4"></div>
<div class="b" style="left:461px;top:1602px;width:486px;height:2px;background:#e4e4e4"></div>
<div class="b" style="left:461px;top:1648px;width:486px;height:2px;background:#e4e4e4"></div>
<div class="b" style="left:461px;top:1694px;width:486px;height:2px;background:#e4e4e4"></div>
<div class="b" style="left:461px;top:1832px;width:486px;height:2px;background:#e4e4e4"></div>
<div class="b" style="left:461px;top:1878px;width:486px;height:2px;background:#e4e4e4"></div>
<div class="b" style="left:461px;top:1924px;width:486px;height:2px;background:#e4e4e4"></div>
<div class="b" style="left:461px;top:1970px;width:486px;height:2px;background:#e4e4e4"></div>
<div class="b" style="left:461px;top:2016px;width:486px;height:2px;background:#e4e4e4"></div>
<div class="b" style="left:461px;top:2062px;width:486px;height:2px;background:#e4e4e4"></div>
<div class="b" style="left:461px;top:361.6px;width:486px;height:2.6px;background:#d8d8d8"></div>
<div class="b" style="left:461px;top:405.8px;width:486px;height:2.4px;background:#d8d8d8"></div>
<div class="b" style="left:461px;top:681.8px;width:486px;height:2.6px;background:#d8d8d8"></div>
<div class="b" style="left:461px;top:727.8px;width:486px;height:2.4px;background:#d8d8d8"></div>
<div class="b" style="left:461px;top:1739.8px;width:486px;height:2.6px;background:#d8d8d8"></div>
<div class="b" style="left:461px;top:1785.8px;width:486px;height:2.4px;background:#d8d8d8"></div>
<div class="b" style="left:858.3px;top:361px;width:2px;height:1242px;background:#e4e4e4"></div>
<div class="b" style="left:902px;top:361px;width:2px;height:1242px;background:#e4e4e4"></div>
<div class="b" style="left:858.3px;top:1741px;width:2px;height:361.4px;background:#e4e4e4"></div>
<div class="b" style="left:902px;top:1741px;width:2px;height:361.4px;background:#e4e4e4"></div>
<div class="b" style="left:459.8px;top:362px;width:2.2px;height:1740.4px;background:#d8d8d8"></div>
</div>
<div class="b" style="left:459.8px;top:2101.4px;width:3314.7px;height:2px;background:#d8d8d8"></div>
<div class="b" style="left:3776px;top:363px;width:23.6px;height:1739.4px;background:rgba(0,0,0,.065)"></div>
<div class="b" style="left:3776px;top:361.5px;width:23.6px;height:1222px;background:#677285;border-radius:12px"></div>
<div class="b" style="left:948.6px;top:2105.6px;width:2825.9px;height:22.6px;background:rgba(0,0,0,.065);border-radius:11.3px"></div>
<div class="b" style="left:1499px;top:2104px;width:2275.5px;height:23.5px;background:#677285;border-radius:11.8px"></div>
<svg class="i" style="left:3715px;top:1205px;width:36px;height:56px" viewBox="0 0 36 56"><path fill="none" stroke="#ea175e" stroke-width="7" stroke-linecap="round" stroke-linejoin="round" d="M7.500 7.500L27.500 27.500L7.500 47.500"/></svg>
</div>
<div id="ov"></div>
<div class="b" style="left:1020px;top:685.4px;width:1800px;height:788.2px;background:#fff;box-shadow:0 0 0 1px rgba(0,0,0,.12)"></div>
<span class="t" style="left:1050.73px;top:739.62px;font-size:38.6px;color:#3c3c3c;letter-spacing:-0.96px;">PRENOTAZIONE DI GRUPPO #2937118</span>
<div class="b" style="left:2594.2px;top:718.2px;width:193.6px;height:77.4px;box-sizing:border-box;border:2.2px solid #4a6593;border-radius:7px"></div>
<span class="t" style="left:2629.53px;top:743.14px;font-size:27px;color:#4a6593;font-weight:700;letter-spacing:1.06px;">AZIONI</span>
<svg class="i" style="left:2740px;top:754px;width:11.8px;height:5.9px" viewBox="0 0 12 6"><path fill="#4a6593" d="M0 0h12L6 6z"/></svg>
<div class="b" style="left:1052px;top:819.6px;width:1736px;height:2px;background:#e4e4e4"></div>
<div class="b" style="left:1052px;top:905.4px;width:1736px;height:2px;background:#e4e4e4"></div>
<div class="b" style="left:1052px;top:977.1px;width:1736px;height:2px;background:#e4e4e4"></div>
<div class="b" style="left:1052px;top:1048.8px;width:1736px;height:2px;background:#e4e4e4"></div>
<div class="b" style="left:1052px;top:1120.5px;width:1736px;height:2px;background:#e4e4e4"></div>
<div class="b" style="left:1052px;top:1192.2px;width:1736px;height:2px;background:#e4e4e4"></div>
<span class="t" style="left:1051.29px;top:859.47px;font-size:28.5px;color:#3c3c3c;font-weight:700;letter-spacing:-1.3px;">Alloggio</span>
<span class="t" style="left:1050.09px;top:930.27px;font-size:28.5px;color:#3c3c3c;font-weight:700;letter-spacing:-0.27px;">Date</span>
<span class="t" style="left:1050.09px;top:1001.97px;font-size:28.5px;color:#3c3c3c;font-weight:700;letter-spacing:-0.83px;">Prenotante</span>
<span class="t" style="left:1050.83px;top:1073.77px;font-size:28.5px;color:#3c3c3c;font-weight:700;letter-spacing:-0.97px;">Ospite principale</span>
<span class="t" style="left:1050.83px;top:1145.57px;font-size:28.5px;color:#3c3c3c;font-weight:700;letter-spacing:-0.58px;">Ospiti</span>
<span class="t" style="left:1050.09px;top:1217.37px;font-size:28.5px;color:#3c3c3c;font-weight:700;letter-spacing:-0.77px;">Piano tariffario</span>
<span class="t" style="left:1774.88px;top:856.39px;font-size:28px;color:#3c3c3c;letter-spacing:0.88px;">Camera Matrimoniale Standard 208</span>
<span class="t" style="left:1775.21px;top:925.79px;font-size:28px;color:#3c3c3c;letter-spacing:1.78px;">02/05/2024 - 07/05/2024</span>
<span class="t" style="left:1774.89px;top:997.49px;font-size:28px;color:#3c3c3c;letter-spacing:0.88px;">Garibaldi Travel</span>
<span class="t" style="left:1774px;top:1069.19px;font-size:28px;color:#3c3c3c;letter-spacing:0.75px;">Rossini Giulio</span>
<span class="t" style="left:1774.89px;top:1140.89px;font-size:28px;color:#3c3c3c;letter-spacing:1.37px;">2 adulti</span>
<span class="t" style="left:1775.03px;top:1212.59px;font-size:28px;color:#3c3c3c;letter-spacing:1.04px;">Solo pernottamento</span>
<div class="b" style="left:1050.3px;top:1336px;width:169.7px;height:78px;background:#959595;border-radius:5px"></div>
<span class="t" style="left:1085.39px;top:1360.84px;font-size:27px;color:#fff;font-weight:700;letter-spacing:1.06px;">CHIUDI</span>
<div class="b" style="left:2474.4px;top:1336px;width:315.3px;height:78px;box-sizing:border-box;border:2.2px solid #4a6593;border-radius:7px"></div>
<span class="t" style="left:2511.12px;top:1360.84px;font-size:27px;color:#4a6593;font-weight:700;letter-spacing:-0.28px;">VAI AL DETTAGLIO</span>
<div class="b" style="left:3736px;top:2072px;width:84px;height:76px;background:#4d6591;border:2.2px solid #fff;border-radius:50%;box-sizing:border-box;box-shadow:2px 4px 9px rgba(0,0,0,.3)"></div>
<div class="b" style="left:3757.1px;top:2088.9px;width:39.8px;height:39.8px;background:#fff;border-radius:50%"></div>
<span class="t" style="left:3769.11px;top:2096.34px;font-size:27px;color:#4d6591;font-weight:700;">?</span>
</body></html>
